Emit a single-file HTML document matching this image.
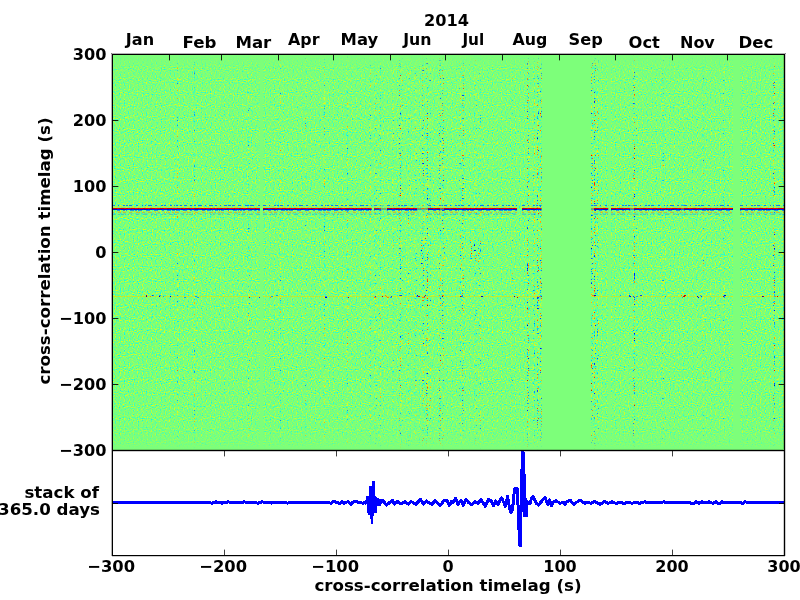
<!DOCTYPE html>
<html><head><meta charset="utf-8"><style>
html,body{margin:0;padding:0;background:#fff;width:800px;height:600px;overflow:hidden}
</style></head><body>
<svg width="800" height="600" viewBox="0 0 800 600" style="position:absolute;left:0;top:0">
<defs>
<filter id="nz" x="0" y="0" width="1" height="1" color-interpolation-filters="sRGB">
<feTurbulence type="fractalNoise" baseFrequency="0.78 0.92" numOctaves="1" seed="3" result="t"/>
<feColorMatrix type="matrix" values="1.0 0 0 0 0.0  1.0 0 0 0 0.0  1.0 0 0 0 0.0  0 0 0 0 1"/>
<feComponentTransfer>
<feFuncR type="table" tableValues="0.035 0.035 0.035 0.035 0.035 0.035 0.035 0.035 0.035 0.035 0.035 0.035 0.035 0.035 0.035 0.035 0.035 0.035 0.035 0.035 0.035 0.035 0.035 0.035 0.035 0.035 0.035 0.035 0.035 0.035 0.035 0.035 0.035 0.047 0.073 0.085 0.111 0.123 0.136 0.161 0.174 0.199 0.212 0.225 0.237 0.262 0.275 0.288 0.300 0.326 0.338 0.351 0.364 0.376 0.389 0.402 0.414 0.427 0.440 0.452 0.452 0.465 0.478 0.478 0.490 0.490 0.490 0.503 0.515 0.515 0.528 0.541 0.553 0.566 0.579 0.591 0.604 0.617 0.629 0.642 0.667 0.680 0.693 0.705 0.731 0.743 0.756 0.769 0.794 0.806 0.832 0.844 0.857 0.882 0.895 0.920 0.933 0.933 0.933 0.933 0.933 0.933 0.933 0.933 0.933 0.933 0.933 0.933 0.933 0.933 0.933 0.933 0.933 0.933 0.933 0.933 0.933 0.933 0.933 0.933 0.933 0.933 0.933 0.933 0.933 0.933 0.933 0.933 0.933"/>
<feFuncG type="table" tableValues="0.943 0.943 0.943 0.943 0.943 0.943 0.943 0.943 0.943 0.943 0.943 0.943 0.943 0.943 0.943 0.943 0.943 0.943 0.943 0.943 0.943 0.943 0.943 0.943 0.943 0.943 0.943 0.943 0.943 0.943 0.943 0.943 0.943 0.959 0.990 1.000 1.000 1.000 1.000 1.000 1.000 1.000 1.000 1.000 1.000 1.000 1.000 1.000 1.000 1.000 1.000 1.000 1.000 1.000 1.000 1.000 1.000 1.000 1.000 1.000 1.000 1.000 1.000 1.000 1.000 1.000 1.000 1.000 1.000 1.000 1.000 1.000 1.000 1.000 1.000 1.000 1.000 1.000 1.000 1.000 1.000 1.000 1.000 1.000 1.000 1.000 1.000 1.000 1.000 1.000 1.000 1.000 1.000 1.000 1.000 1.000 1.000 1.000 1.000 1.000 1.000 1.000 1.000 1.000 1.000 1.000 1.000 1.000 1.000 1.000 1.000 1.000 1.000 1.000 1.000 1.000 1.000 1.000 1.000 1.000 1.000 1.000 1.000 1.000 1.000 1.000 1.000 1.000 1.000"/>
<feFuncB type="table" tableValues="0.933 0.933 0.933 0.933 0.933 0.933 0.933 0.933 0.933 0.933 0.933 0.933 0.933 0.933 0.933 0.933 0.933 0.933 0.933 0.933 0.933 0.933 0.933 0.933 0.933 0.933 0.933 0.933 0.933 0.933 0.933 0.933 0.933 0.920 0.895 0.882 0.857 0.844 0.832 0.806 0.794 0.769 0.756 0.743 0.731 0.705 0.693 0.680 0.667 0.642 0.629 0.617 0.604 0.591 0.579 0.566 0.553 0.541 0.528 0.515 0.515 0.503 0.490 0.490 0.478 0.478 0.478 0.465 0.452 0.452 0.440 0.427 0.414 0.402 0.389 0.376 0.364 0.351 0.338 0.326 0.300 0.288 0.275 0.262 0.237 0.225 0.212 0.199 0.174 0.161 0.136 0.123 0.111 0.085 0.073 0.047 0.035 0.035 0.035 0.035 0.035 0.035 0.035 0.035 0.035 0.035 0.035 0.035 0.035 0.035 0.035 0.035 0.035 0.035 0.035 0.035 0.035 0.035 0.035 0.035 0.035 0.035 0.035 0.035 0.035 0.035 0.035 0.035 0.035"/>
</feComponentTransfer>
</filter>
<filter id="nz2" x="0" y="0" width="1" height="1" color-interpolation-filters="sRGB">
<feTurbulence type="fractalNoise" baseFrequency="0.7 0.6" numOctaves="1" seed="11"/>
<feColorMatrix type="matrix" values="1 0 0 0 0  1 0 0 0 0  1 0 0 0 0  0 0 0 0 1"/>
<feComponentTransfer>
<feFuncR type="table" tableValues="0.000 0.000 0.000 0.000 0.000 0.000 0.000 0.000 0.000 0.000 0.000 0.000 0.000 0.000 0.000 0.000 0.000 0.000 0.000 0.000 0.000 0.000 0.000 0.000 0.000 0.000 0.000 0.000 0.000 0.000 0.000 0.000 0.000 0.000 0.000 0.000 0.000 0.000 0.000 0.000 0.000 0.000 0.000 0.000 0.022 0.073 0.123 0.174 0.212 0.237 0.262 0.288 0.300 0.326 0.338 0.364 0.376 0.389 0.414 0.427 0.440 0.452 0.465 0.478 0.490 0.490 0.503 0.515 0.528 0.541 0.553 0.579 0.591 0.604 0.629 0.642 0.667 0.680 0.705 0.731 0.756 0.794 0.844 0.895 0.946 0.996 1.000 1.000 1.000 1.000 1.000 1.000 1.000 1.000 1.000 1.000 1.000 1.000 1.000 0.999 0.946 0.892 0.839 0.785 0.714 0.660 0.607 0.553 0.500 0.500 0.500 0.500 0.500 0.500 0.500 0.500 0.500 0.500 0.500 0.500 0.500 0.500 0.500 0.500 0.500 0.500 0.500 0.500 0.500"/>
<feFuncG type="table" tableValues="0.000 0.000 0.000 0.000 0.000 0.000 0.000 0.000 0.000 0.000 0.000 0.000 0.000 0.000 0.000 0.000 0.000 0.000 0.000 0.000 0.000 0.000 0.000 0.000 0.000 0.000 0.000 0.000 0.000 0.000 0.000 0.033 0.065 0.143 0.222 0.300 0.378 0.457 0.520 0.598 0.661 0.739 0.802 0.865 0.927 0.990 1.000 1.000 1.000 1.000 1.000 1.000 1.000 1.000 1.000 1.000 1.000 1.000 1.000 1.000 1.000 1.000 1.000 1.000 1.000 1.000 1.000 1.000 1.000 1.000 1.000 1.000 1.000 1.000 1.000 1.000 1.000 1.000 1.000 1.000 1.000 1.000 1.000 1.000 0.988 0.930 0.872 0.814 0.741 0.683 0.611 0.553 0.480 0.407 0.335 0.262 0.190 0.160 0.117 0.073 0.030 0.000 0.000 0.000 0.000 0.000 0.000 0.000 0.000 0.000 0.000 0.000 0.000 0.000 0.000 0.000 0.000 0.000 0.000 0.000 0.000 0.000 0.000 0.000 0.000 0.000 0.000 0.000 0.000"/>
<feFuncB type="table" tableValues="0.500 0.500 0.500 0.500 0.500 0.500 0.500 0.500 0.500 0.500 0.500 0.500 0.500 0.500 0.500 0.500 0.500 0.500 0.500 0.500 0.500 0.553 0.607 0.660 0.714 0.785 0.839 0.892 0.946 0.999 1.000 1.000 1.000 1.000 1.000 1.000 1.000 1.000 1.000 1.000 1.000 1.000 1.000 0.996 0.946 0.895 0.844 0.794 0.756 0.731 0.705 0.680 0.667 0.642 0.629 0.604 0.591 0.579 0.553 0.541 0.528 0.515 0.503 0.490 0.478 0.478 0.465 0.452 0.440 0.427 0.414 0.389 0.376 0.364 0.338 0.326 0.300 0.288 0.262 0.237 0.212 0.174 0.123 0.073 0.022 0.000 0.000 0.000 0.000 0.000 0.000 0.000 0.000 0.000 0.000 0.000 0.000 0.000 0.000 0.000 0.000 0.000 0.000 0.000 0.000 0.000 0.000 0.000 0.000 0.000 0.000 0.000 0.000 0.000 0.000 0.000 0.000 0.000 0.000 0.000 0.000 0.000 0.000 0.000 0.000 0.000 0.000 0.000 0.000"/>
</feComponentTransfer>
</filter>
<filter id="nz3" x="0" y="0" width="1" height="1" color-interpolation-filters="sRGB">
<feTurbulence type="fractalNoise" baseFrequency="0.7 0.6" numOctaves="1" seed="17"/>
<feColorMatrix type="matrix" values="1 0 0 0 0  1 0 0 0 0  1 0 0 0 0  0 0 0 0 1"/>
<feComponentTransfer>
<feFuncR type="table" tableValues="0.000 0.000 0.000 0.000 0.000 0.000 0.000 0.000 0.000 0.000 0.000 0.000 0.000 0.000 0.000 0.000 0.000 0.000 0.000 0.000 0.000 0.000 0.000 0.000 0.000 0.000 0.000 0.000 0.000 0.000 0.000 0.000 0.000 0.000 0.000 0.000 0.000 0.000 0.000 0.000 0.035 0.073 0.111 0.136 0.174 0.199 0.225 0.237 0.262 0.275 0.300 0.313 0.326 0.351 0.364 0.376 0.389 0.402 0.427 0.440 0.452 0.452 0.465 0.478 0.490 0.490 0.503 0.515 0.515 0.528 0.541 0.566 0.579 0.591 0.604 0.617 0.642 0.655 0.667 0.693 0.705 0.731 0.743 0.769 0.794 0.832 0.857 0.895 0.933 0.984 1.000 1.000 1.000 1.000 1.000 1.000 1.000 1.000 1.000 1.000 1.000 1.000 1.000 1.000 1.000 1.000 1.000 1.000 1.000 1.000 1.000 1.000 1.000 1.000 0.999 0.963 0.928 0.892 0.857 0.803 0.767 0.732 0.696 0.643 0.607 0.571 0.518 0.500 0.500"/>
<feFuncG type="table" tableValues="0.000 0.000 0.000 0.000 0.000 0.000 0.000 0.000 0.000 0.000 0.000 0.000 0.000 0.000 0.000 0.000 0.018 0.049 0.080 0.112 0.143 0.175 0.206 0.237 0.269 0.300 0.331 0.363 0.394 0.425 0.457 0.488 0.520 0.567 0.629 0.676 0.739 0.786 0.833 0.880 0.943 0.990 1.000 1.000 1.000 1.000 1.000 1.000 1.000 1.000 1.000 1.000 1.000 1.000 1.000 1.000 1.000 1.000 1.000 1.000 1.000 1.000 1.000 1.000 1.000 1.000 1.000 1.000 1.000 1.000 1.000 1.000 1.000 1.000 1.000 1.000 1.000 1.000 1.000 1.000 1.000 1.000 1.000 1.000 1.000 1.000 1.000 1.000 1.000 0.945 0.901 0.858 0.814 0.756 0.712 0.654 0.611 0.582 0.553 0.524 0.495 0.466 0.436 0.407 0.378 0.349 0.320 0.291 0.262 0.233 0.204 0.175 0.146 0.117 0.073 0.044 0.015 0.000 0.000 0.000 0.000 0.000 0.000 0.000 0.000 0.000 0.000 0.000 0.000"/>
<feFuncB type="table" tableValues="0.500 0.500 0.518 0.571 0.607 0.643 0.696 0.732 0.767 0.803 0.857 0.892 0.928 0.963 0.999 1.000 1.000 1.000 1.000 1.000 1.000 1.000 1.000 1.000 1.000 1.000 1.000 1.000 1.000 1.000 1.000 1.000 1.000 1.000 1.000 1.000 1.000 1.000 1.000 0.984 0.933 0.895 0.857 0.832 0.794 0.769 0.743 0.731 0.705 0.693 0.667 0.655 0.642 0.617 0.604 0.591 0.579 0.566 0.541 0.528 0.515 0.515 0.503 0.490 0.478 0.478 0.465 0.452 0.452 0.440 0.427 0.402 0.389 0.376 0.364 0.351 0.326 0.313 0.300 0.275 0.262 0.237 0.225 0.199 0.174 0.136 0.111 0.073 0.035 0.000 0.000 0.000 0.000 0.000 0.000 0.000 0.000 0.000 0.000 0.000 0.000 0.000 0.000 0.000 0.000 0.000 0.000 0.000 0.000 0.000 0.000 0.000 0.000 0.000 0.000 0.000 0.000 0.000 0.000 0.000 0.000 0.000 0.000 0.000 0.000 0.000 0.000 0.000 0.000"/>
</feComponentTransfer>
</filter>
<filter id="gs" x="0" y="0" width="800" height="600" filterUnits="userSpaceOnUse"><feColorMatrix type="identity"/></filter>
<linearGradient id="fade" x1="0" y1="0" x2="0" y2="1"><stop offset="0.0025" stop-color="#7dff7a" stop-opacity="0.97"/><stop offset="0.0101" stop-color="#7dff7a" stop-opacity="0.85"/><stop offset="0.0202" stop-color="#7dff7a" stop-opacity="0.6"/><stop offset="0.0354" stop-color="#7dff7a" stop-opacity="0.35"/><stop offset="0.0657" stop-color="#7dff7a" stop-opacity="0.18"/><stop offset="0.1667" stop-color="#7dff7a" stop-opacity="0.08"/><stop offset="0.2929" stop-color="#7dff7a" stop-opacity="0.0"/><stop offset="0.6970" stop-color="#7dff7a" stop-opacity="0.0"/><stop offset="0.8232" stop-color="#7dff7a" stop-opacity="0.08"/><stop offset="0.9242" stop-color="#7dff7a" stop-opacity="0.2"/><stop offset="0.9646" stop-color="#7dff7a" stop-opacity="0.4"/><stop offset="0.9798" stop-color="#7dff7a" stop-opacity="0.6"/><stop offset="0.9899" stop-color="#7dff7a" stop-opacity="0.85"/><stop offset="0.9975" stop-color="#7dff7a" stop-opacity="0.97"/></linearGradient>
</defs>
<rect x="0" y="0" width="800" height="600" fill="#fff"/>
<rect x="112" y="54" width="672" height="396" fill="#7dff7a"/>
<rect x="112" y="54" width="672" height="396" fill="#000" filter="url(#nz)"/>
<rect x="177" y="54" width="1" height="396" fill="#000" filter="url(#nz3)"/><rect x="194" y="54" width="1" height="396" fill="#000" filter="url(#nz3)"/><rect x="248" y="54" width="2" height="396" fill="#000" filter="url(#nz3)"/><rect x="280" y="54" width="1" height="396" fill="#000" filter="url(#nz3)"/><rect x="305" y="54" width="1" height="396" fill="#000" filter="url(#nz3)"/><rect x="324" y="54" width="1" height="396" fill="#000" filter="url(#nz3)"/><rect x="347" y="54" width="1" height="396" fill="#000" filter="url(#nz3)"/><rect x="370" y="54" width="1" height="396" fill="#000" filter="url(#nz3)"/><rect x="375" y="54" width="2" height="396" fill="#000" filter="url(#nz3)"/><rect x="379" y="54" width="2" height="396" fill="#000" filter="url(#nz3)"/><rect x="393" y="54" width="1" height="396" fill="#000" filter="url(#nz3)"/><rect x="399" y="54" width="2" height="396" fill="#000" filter="url(#nz2)"/><rect x="402" y="54" width="1" height="396" fill="#000" filter="url(#nz3)"/><rect x="408" y="54" width="2" height="396" fill="#000" filter="url(#nz3)"/><rect x="415" y="54" width="2" height="396" fill="#000" filter="url(#nz3)"/><rect x="422" y="54" width="2" height="396" fill="#000" filter="url(#nz2)"/><rect x="426" y="54" width="2" height="396" fill="#000" filter="url(#nz2)"/><rect x="429" y="54" width="2" height="396" fill="#000" filter="url(#nz3)"/><rect x="439" y="54" width="2" height="396" fill="#000" filter="url(#nz2)"/><rect x="442" y="54" width="2" height="396" fill="#000" filter="url(#nz2)"/><rect x="459" y="54" width="2" height="396" fill="#000" filter="url(#nz3)"/><rect x="462" y="54" width="2" height="396" fill="#000" filter="url(#nz2)"/><rect x="475" y="54" width="2" height="396" fill="#000" filter="url(#nz3)"/><rect x="479" y="54" width="2" height="396" fill="#000" filter="url(#nz3)"/><rect x="512" y="54" width="1" height="396" fill="#000" filter="url(#nz3)"/><rect x="527" y="54" width="2" height="396" fill="#000" filter="url(#nz2)"/><rect x="533" y="54" width="2" height="396" fill="#000" filter="url(#nz3)"/><rect x="537" y="54" width="2" height="396" fill="#000" filter="url(#nz2)"/><rect x="540" y="54" width="2" height="396" fill="#000" filter="url(#nz2)"/><rect x="591" y="54" width="2" height="396" fill="#000" filter="url(#nz2)"/><rect x="594" y="54" width="2" height="396" fill="#000" filter="url(#nz2)"/><rect x="597" y="54" width="2" height="396" fill="#000" filter="url(#nz3)"/><rect x="633" y="54" width="2" height="396" fill="#000" filter="url(#nz2)"/><rect x="636" y="54" width="1" height="396" fill="#000" filter="url(#nz3)"/><rect x="662" y="54" width="2" height="396" fill="#000" filter="url(#nz3)"/><rect x="703" y="54" width="1" height="396" fill="#000" filter="url(#nz3)"/><rect x="723" y="54" width="1" height="396" fill="#000" filter="url(#nz3)"/><rect x="773" y="54" width="2" height="396" fill="#000" filter="url(#nz2)"/><rect x="421" y="240" width="3" height="24" fill="#000" filter="url(#nz2)"/><rect x="425" y="238" width="3" height="26" fill="#000" filter="url(#nz2)"/><rect x="428" y="244" width="2" height="18" fill="#000" filter="url(#nz2)"/><rect x="438" y="240" width="3" height="24" fill="#000" filter="url(#nz2)"/><rect x="442" y="238" width="3" height="26" fill="#000" filter="url(#nz2)"/><rect x="460" y="236" width="2" height="30" fill="#000" filter="url(#nz2)"/><rect x="470" y="240" width="2" height="22" fill="#000" filter="url(#nz2)"/><rect x="474" y="242" width="3" height="20" fill="#000" filter="url(#nz2)"/><rect x="478" y="240" width="3" height="22" fill="#000" filter="url(#nz2)"/><path d="M112 205.5H260" stroke="#0064ff" stroke-width="1" opacity="0.85" stroke-dasharray="3 3 1 4 2 1 2 1 3 4 2 4 1 2 1 2 4 3 2 4 2 1 2 4 2 2 1 1 2 2 2 2 3 3 2 2 2 2 4 3 1 3 4 2 2 3 1 3 3 1 3 1 3 3 3 4 3 2 4 4"/><path d="M263 205.5H371.7" stroke="#0064ff" stroke-width="1" opacity="0.85" stroke-dasharray="3 3 1 4 2 1 2 1 3 4 2 4 1 2 1 2 4 3 2 4 2 1 2 4 2 2 1 1 2 2 2 2 3 3 2 2 2 2 4 3 1 3 4 2 2 3 1 3 3 1 3 1 3 3 3 4 3 2 4 4"/><path d="M374 205.5H381" stroke="#0064ff" stroke-width="1" opacity="0.68" stroke-dasharray="3 3 1 4 2 1 2 1 3 4 2 4 1 2 1 2 4 3 2 4 2 1 2 4 2 2 1 1 2 2 2 2 3 3 2 2 2 2 4 3 1 3 4 2 2 3 1 3 3 1 3 1 3 3 3 4 3 2 4 4"/><path d="M381 205.5H387" stroke="#0064ff" stroke-width="1" opacity="0.21" stroke-dasharray="3 3 1 4 2 1 2 1 3 4 2 4 1 2 1 2 4 3 2 4 2 1 2 4 2 2 1 1 2 2 2 2 3 3 2 2 2 2 4 3 1 3 4 2 2 3 1 3 3 1 3 1 3 3 3 4 3 2 4 4"/><path d="M387 205.5H417" stroke="#0064ff" stroke-width="1" opacity="0.85" stroke-dasharray="3 3 1 4 2 1 2 1 3 4 2 4 1 2 1 2 4 3 2 4 2 1 2 4 2 2 1 1 2 2 2 2 3 3 2 2 2 2 4 3 1 3 4 2 2 3 1 3 3 1 3 1 3 3 3 4 3 2 4 4"/><path d="M417 205.5H428" stroke="#0064ff" stroke-width="1" opacity="0.26" stroke-dasharray="3 3 1 4 2 1 2 1 3 4 2 4 1 2 1 2 4 3 2 4 2 1 2 4 2 2 1 1 2 2 2 2 3 3 2 2 2 2 4 3 1 3 4 2 2 3 1 3 3 1 3 1 3 3 3 4 3 2 4 4"/><path d="M428 205.5H440" stroke="#0064ff" stroke-width="1" opacity="0.85" stroke-dasharray="3 3 1 4 2 1 2 1 3 4 2 4 1 2 1 2 4 3 2 4 2 1 2 4 2 2 1 1 2 2 2 2 3 3 2 2 2 2 4 3 1 3 4 2 2 3 1 3 3 1 3 1 3 3 3 4 3 2 4 4"/><path d="M440 205.5H444" stroke="#0064ff" stroke-width="1" opacity="0.42" stroke-dasharray="3 3 1 4 2 1 2 1 3 4 2 4 1 2 1 2 4 3 2 4 2 1 2 4 2 2 1 1 2 2 2 2 3 3 2 2 2 2 4 3 1 3 4 2 2 3 1 3 3 1 3 1 3 3 3 4 3 2 4 4"/><path d="M444 205.5H517" stroke="#0064ff" stroke-width="1" opacity="0.85" stroke-dasharray="3 3 1 4 2 1 2 1 3 4 2 4 1 2 1 2 4 3 2 4 2 1 2 4 2 2 1 1 2 2 2 2 3 3 2 2 2 2 4 3 1 3 4 2 2 3 1 3 3 1 3 1 3 3 3 4 3 2 4 4"/><path d="M522 205.5H541.7" stroke="#0064ff" stroke-width="1" opacity="0.85" stroke-dasharray="3 3 1 4 2 1 2 1 3 4 2 4 1 2 1 2 4 3 2 4 2 1 2 4 2 2 1 1 2 2 2 2 3 3 2 2 2 2 4 3 1 3 4 2 2 3 1 3 3 1 3 1 3 3 3 4 3 2 4 4"/><path d="M591 205.5H594" stroke="#0064ff" stroke-width="1" opacity="0.26" stroke-dasharray="3 3 1 4 2 1 2 1 3 4 2 4 1 2 1 2 4 3 2 4 2 1 2 4 2 2 1 1 2 2 2 2 3 3 2 2 2 2 4 3 1 3 4 2 2 3 1 3 3 1 3 1 3 3 3 4 3 2 4 4"/><path d="M594 205.5H608.5" stroke="#0064ff" stroke-width="1" opacity="0.85" stroke-dasharray="3 3 1 4 2 1 2 1 3 4 2 4 1 2 1 2 4 3 2 4 2 1 2 4 2 2 1 1 2 2 2 2 3 3 2 2 2 2 4 3 1 3 4 2 2 3 1 3 3 1 3 1 3 3 3 4 3 2 4 4"/><path d="M611 205.5H630" stroke="#0064ff" stroke-width="1" opacity="0.85" stroke-dasharray="3 3 1 4 2 1 2 1 3 4 2 4 1 2 1 2 4 3 2 4 2 1 2 4 2 2 1 1 2 2 2 2 3 3 2 2 2 2 4 3 1 3 4 2 2 3 1 3 3 1 3 1 3 3 3 4 3 2 4 4"/><path d="M630 205.5H634" stroke="#0064ff" stroke-width="1" opacity="0.34" stroke-dasharray="3 3 1 4 2 1 2 1 3 4 2 4 1 2 1 2 4 3 2 4 2 1 2 4 2 2 1 1 2 2 2 2 3 3 2 2 2 2 4 3 1 3 4 2 2 3 1 3 3 1 3 1 3 3 3 4 3 2 4 4"/><path d="M634 205.5H681" stroke="#0064ff" stroke-width="1" opacity="0.85" stroke-dasharray="3 3 1 4 2 1 2 1 3 4 2 4 1 2 1 2 4 3 2 4 2 1 2 4 2 2 1 1 2 2 2 2 3 3 2 2 2 2 4 3 1 3 4 2 2 3 1 3 3 1 3 1 3 3 3 4 3 2 4 4"/><path d="M681 205.5H684" stroke="#0064ff" stroke-width="1" opacity="0.51" stroke-dasharray="3 3 1 4 2 1 2 1 3 4 2 4 1 2 1 2 4 3 2 4 2 1 2 4 2 2 1 1 2 2 2 2 3 3 2 2 2 2 4 3 1 3 4 2 2 3 1 3 3 1 3 1 3 3 3 4 3 2 4 4"/><path d="M684 205.5H733" stroke="#0064ff" stroke-width="1" opacity="0.85" stroke-dasharray="3 3 1 4 2 1 2 1 3 4 2 4 1 2 1 2 4 3 2 4 2 1 2 4 2 2 1 1 2 2 2 2 3 3 2 2 2 2 4 3 1 3 4 2 2 3 1 3 3 1 3 1 3 3 3 4 3 2 4 4"/><path d="M740 205.5H784" stroke="#0064ff" stroke-width="1" opacity="0.85" stroke-dasharray="3 3 1 4 2 1 2 1 3 4 2 4 1 2 1 2 4 3 2 4 2 1 2 4 2 2 1 1 2 2 2 2 3 3 2 2 2 2 4 3 1 3 4 2 2 3 1 3 3 1 3 1 3 3 3 4 3 2 4 4"/><path d="M112 206.5H260" stroke="#ffe000" stroke-width="1" opacity="0.45" stroke-dasharray="2 1 3 1 3 4 1 4 3 4 1 4 1 2 2 1 2 4 3 3 3 4 1 3 3 1 4 1 2 3 3 2 3 3 1 3 3 3 2 1 2 3 4 2 1 1 4 1 2 3 3 4 4 2 1 1 4 3 2 2"/><path d="M263 206.5H371.7" stroke="#ffe000" stroke-width="1" opacity="0.45" stroke-dasharray="2 1 3 1 3 4 1 4 3 4 1 4 1 2 2 1 2 4 3 3 3 4 1 3 3 1 4 1 2 3 3 2 3 3 1 3 3 3 2 1 2 3 4 2 1 1 4 1 2 3 3 4 4 2 1 1 4 3 2 2"/><path d="M374 206.5H381" stroke="#ffe000" stroke-width="1" opacity="0.36" stroke-dasharray="2 1 3 1 3 4 1 4 3 4 1 4 1 2 2 1 2 4 3 3 3 4 1 3 3 1 4 1 2 3 3 2 3 3 1 3 3 3 2 1 2 3 4 2 1 1 4 1 2 3 3 4 4 2 1 1 4 3 2 2"/><path d="M381 206.5H387" stroke="#ffe000" stroke-width="1" opacity="0.11" stroke-dasharray="2 1 3 1 3 4 1 4 3 4 1 4 1 2 2 1 2 4 3 3 3 4 1 3 3 1 4 1 2 3 3 2 3 3 1 3 3 3 2 1 2 3 4 2 1 1 4 1 2 3 3 4 4 2 1 1 4 3 2 2"/><path d="M387 206.5H417" stroke="#ffe000" stroke-width="1" opacity="0.45" stroke-dasharray="2 1 3 1 3 4 1 4 3 4 1 4 1 2 2 1 2 4 3 3 3 4 1 3 3 1 4 1 2 3 3 2 3 3 1 3 3 3 2 1 2 3 4 2 1 1 4 1 2 3 3 4 4 2 1 1 4 3 2 2"/><path d="M417 206.5H428" stroke="#ffe000" stroke-width="1" opacity="0.14" stroke-dasharray="2 1 3 1 3 4 1 4 3 4 1 4 1 2 2 1 2 4 3 3 3 4 1 3 3 1 4 1 2 3 3 2 3 3 1 3 3 3 2 1 2 3 4 2 1 1 4 1 2 3 3 4 4 2 1 1 4 3 2 2"/><path d="M428 206.5H440" stroke="#ffe000" stroke-width="1" opacity="0.45" stroke-dasharray="2 1 3 1 3 4 1 4 3 4 1 4 1 2 2 1 2 4 3 3 3 4 1 3 3 1 4 1 2 3 3 2 3 3 1 3 3 3 2 1 2 3 4 2 1 1 4 1 2 3 3 4 4 2 1 1 4 3 2 2"/><path d="M440 206.5H444" stroke="#ffe000" stroke-width="1" opacity="0.23" stroke-dasharray="2 1 3 1 3 4 1 4 3 4 1 4 1 2 2 1 2 4 3 3 3 4 1 3 3 1 4 1 2 3 3 2 3 3 1 3 3 3 2 1 2 3 4 2 1 1 4 1 2 3 3 4 4 2 1 1 4 3 2 2"/><path d="M444 206.5H517" stroke="#ffe000" stroke-width="1" opacity="0.45" stroke-dasharray="2 1 3 1 3 4 1 4 3 4 1 4 1 2 2 1 2 4 3 3 3 4 1 3 3 1 4 1 2 3 3 2 3 3 1 3 3 3 2 1 2 3 4 2 1 1 4 1 2 3 3 4 4 2 1 1 4 3 2 2"/><path d="M522 206.5H541.7" stroke="#ffe000" stroke-width="1" opacity="0.45" stroke-dasharray="2 1 3 1 3 4 1 4 3 4 1 4 1 2 2 1 2 4 3 3 3 4 1 3 3 1 4 1 2 3 3 2 3 3 1 3 3 3 2 1 2 3 4 2 1 1 4 1 2 3 3 4 4 2 1 1 4 3 2 2"/><path d="M591 206.5H594" stroke="#ffe000" stroke-width="1" opacity="0.14" stroke-dasharray="2 1 3 1 3 4 1 4 3 4 1 4 1 2 2 1 2 4 3 3 3 4 1 3 3 1 4 1 2 3 3 2 3 3 1 3 3 3 2 1 2 3 4 2 1 1 4 1 2 3 3 4 4 2 1 1 4 3 2 2"/><path d="M594 206.5H608.5" stroke="#ffe000" stroke-width="1" opacity="0.45" stroke-dasharray="2 1 3 1 3 4 1 4 3 4 1 4 1 2 2 1 2 4 3 3 3 4 1 3 3 1 4 1 2 3 3 2 3 3 1 3 3 3 2 1 2 3 4 2 1 1 4 1 2 3 3 4 4 2 1 1 4 3 2 2"/><path d="M611 206.5H630" stroke="#ffe000" stroke-width="1" opacity="0.45" stroke-dasharray="2 1 3 1 3 4 1 4 3 4 1 4 1 2 2 1 2 4 3 3 3 4 1 3 3 1 4 1 2 3 3 2 3 3 1 3 3 3 2 1 2 3 4 2 1 1 4 1 2 3 3 4 4 2 1 1 4 3 2 2"/><path d="M630 206.5H634" stroke="#ffe000" stroke-width="1" opacity="0.18" stroke-dasharray="2 1 3 1 3 4 1 4 3 4 1 4 1 2 2 1 2 4 3 3 3 4 1 3 3 1 4 1 2 3 3 2 3 3 1 3 3 3 2 1 2 3 4 2 1 1 4 1 2 3 3 4 4 2 1 1 4 3 2 2"/><path d="M634 206.5H681" stroke="#ffe000" stroke-width="1" opacity="0.45" stroke-dasharray="2 1 3 1 3 4 1 4 3 4 1 4 1 2 2 1 2 4 3 3 3 4 1 3 3 1 4 1 2 3 3 2 3 3 1 3 3 3 2 1 2 3 4 2 1 1 4 1 2 3 3 4 4 2 1 1 4 3 2 2"/><path d="M681 206.5H684" stroke="#ffe000" stroke-width="1" opacity="0.27" stroke-dasharray="2 1 3 1 3 4 1 4 3 4 1 4 1 2 2 1 2 4 3 3 3 4 1 3 3 1 4 1 2 3 3 2 3 3 1 3 3 3 2 1 2 3 4 2 1 1 4 1 2 3 3 4 4 2 1 1 4 3 2 2"/><path d="M684 206.5H733" stroke="#ffe000" stroke-width="1" opacity="0.45" stroke-dasharray="2 1 3 1 3 4 1 4 3 4 1 4 1 2 2 1 2 4 3 3 3 4 1 3 3 1 4 1 2 3 3 2 3 3 1 3 3 3 2 1 2 3 4 2 1 1 4 1 2 3 3 4 4 2 1 1 4 3 2 2"/><path d="M740 206.5H784" stroke="#ffe000" stroke-width="1" opacity="0.45" stroke-dasharray="2 1 3 1 3 4 1 4 3 4 1 4 1 2 2 1 2 4 3 3 3 4 1 3 3 1 4 1 2 3 3 2 3 3 1 3 3 3 2 1 2 3 4 2 1 1 4 1 2 3 3 4 4 2 1 1 4 3 2 2"/><path d="M112 207.5H260" stroke="#ffb000" stroke-width="1" opacity="0.30" stroke-dasharray="2 4 1 2 4 3 2 1 4 3 2 4 2 4 4 3 4 3 3 4 4 2 1 4 2 4 3 2 1 4 3 3 1 3 1 3 3 3 4 3 3 3 2 1 4 3 3 3 4 3 3 3 3 3 4 3 2 4 3 3"/><path d="M263 207.5H371.7" stroke="#ffb000" stroke-width="1" opacity="0.30" stroke-dasharray="2 4 1 2 4 3 2 1 4 3 2 4 2 4 4 3 4 3 3 4 4 2 1 4 2 4 3 2 1 4 3 3 1 3 1 3 3 3 4 3 3 3 2 1 4 3 3 3 4 3 3 3 3 3 4 3 2 4 3 3"/><path d="M374 207.5H381" stroke="#ffb000" stroke-width="1" opacity="0.24" stroke-dasharray="2 4 1 2 4 3 2 1 4 3 2 4 2 4 4 3 4 3 3 4 4 2 1 4 2 4 3 2 1 4 3 3 1 3 1 3 3 3 4 3 3 3 2 1 4 3 3 3 4 3 3 3 3 3 4 3 2 4 3 3"/><path d="M381 207.5H387" stroke="#ffb000" stroke-width="1" opacity="0.07" stroke-dasharray="2 4 1 2 4 3 2 1 4 3 2 4 2 4 4 3 4 3 3 4 4 2 1 4 2 4 3 2 1 4 3 3 1 3 1 3 3 3 4 3 3 3 2 1 4 3 3 3 4 3 3 3 3 3 4 3 2 4 3 3"/><path d="M387 207.5H417" stroke="#ffb000" stroke-width="1" opacity="0.30" stroke-dasharray="2 4 1 2 4 3 2 1 4 3 2 4 2 4 4 3 4 3 3 4 4 2 1 4 2 4 3 2 1 4 3 3 1 3 1 3 3 3 4 3 3 3 2 1 4 3 3 3 4 3 3 3 3 3 4 3 2 4 3 3"/><path d="M417 207.5H428" stroke="#ffb000" stroke-width="1" opacity="0.09" stroke-dasharray="2 4 1 2 4 3 2 1 4 3 2 4 2 4 4 3 4 3 3 4 4 2 1 4 2 4 3 2 1 4 3 3 1 3 1 3 3 3 4 3 3 3 2 1 4 3 3 3 4 3 3 3 3 3 4 3 2 4 3 3"/><path d="M428 207.5H440" stroke="#ffb000" stroke-width="1" opacity="0.30" stroke-dasharray="2 4 1 2 4 3 2 1 4 3 2 4 2 4 4 3 4 3 3 4 4 2 1 4 2 4 3 2 1 4 3 3 1 3 1 3 3 3 4 3 3 3 2 1 4 3 3 3 4 3 3 3 3 3 4 3 2 4 3 3"/><path d="M440 207.5H444" stroke="#ffb000" stroke-width="1" opacity="0.15" stroke-dasharray="2 4 1 2 4 3 2 1 4 3 2 4 2 4 4 3 4 3 3 4 4 2 1 4 2 4 3 2 1 4 3 3 1 3 1 3 3 3 4 3 3 3 2 1 4 3 3 3 4 3 3 3 3 3 4 3 2 4 3 3"/><path d="M444 207.5H517" stroke="#ffb000" stroke-width="1" opacity="0.30" stroke-dasharray="2 4 1 2 4 3 2 1 4 3 2 4 2 4 4 3 4 3 3 4 4 2 1 4 2 4 3 2 1 4 3 3 1 3 1 3 3 3 4 3 3 3 2 1 4 3 3 3 4 3 3 3 3 3 4 3 2 4 3 3"/><path d="M522 207.5H541.7" stroke="#ffb000" stroke-width="1" opacity="0.30" stroke-dasharray="2 4 1 2 4 3 2 1 4 3 2 4 2 4 4 3 4 3 3 4 4 2 1 4 2 4 3 2 1 4 3 3 1 3 1 3 3 3 4 3 3 3 2 1 4 3 3 3 4 3 3 3 3 3 4 3 2 4 3 3"/><path d="M591 207.5H594" stroke="#ffb000" stroke-width="1" opacity="0.09" stroke-dasharray="2 4 1 2 4 3 2 1 4 3 2 4 2 4 4 3 4 3 3 4 4 2 1 4 2 4 3 2 1 4 3 3 1 3 1 3 3 3 4 3 3 3 2 1 4 3 3 3 4 3 3 3 3 3 4 3 2 4 3 3"/><path d="M594 207.5H608.5" stroke="#ffb000" stroke-width="1" opacity="0.30" stroke-dasharray="2 4 1 2 4 3 2 1 4 3 2 4 2 4 4 3 4 3 3 4 4 2 1 4 2 4 3 2 1 4 3 3 1 3 1 3 3 3 4 3 3 3 2 1 4 3 3 3 4 3 3 3 3 3 4 3 2 4 3 3"/><path d="M611 207.5H630" stroke="#ffb000" stroke-width="1" opacity="0.30" stroke-dasharray="2 4 1 2 4 3 2 1 4 3 2 4 2 4 4 3 4 3 3 4 4 2 1 4 2 4 3 2 1 4 3 3 1 3 1 3 3 3 4 3 3 3 2 1 4 3 3 3 4 3 3 3 3 3 4 3 2 4 3 3"/><path d="M630 207.5H634" stroke="#ffb000" stroke-width="1" opacity="0.12" stroke-dasharray="2 4 1 2 4 3 2 1 4 3 2 4 2 4 4 3 4 3 3 4 4 2 1 4 2 4 3 2 1 4 3 3 1 3 1 3 3 3 4 3 3 3 2 1 4 3 3 3 4 3 3 3 3 3 4 3 2 4 3 3"/><path d="M634 207.5H681" stroke="#ffb000" stroke-width="1" opacity="0.30" stroke-dasharray="2 4 1 2 4 3 2 1 4 3 2 4 2 4 4 3 4 3 3 4 4 2 1 4 2 4 3 2 1 4 3 3 1 3 1 3 3 3 4 3 3 3 2 1 4 3 3 3 4 3 3 3 3 3 4 3 2 4 3 3"/><path d="M681 207.5H684" stroke="#ffb000" stroke-width="1" opacity="0.18" stroke-dasharray="2 4 1 2 4 3 2 1 4 3 2 4 2 4 4 3 4 3 3 4 4 2 1 4 2 4 3 2 1 4 3 3 1 3 1 3 3 3 4 3 3 3 2 1 4 3 3 3 4 3 3 3 3 3 4 3 2 4 3 3"/><path d="M684 207.5H733" stroke="#ffb000" stroke-width="1" opacity="0.30" stroke-dasharray="2 4 1 2 4 3 2 1 4 3 2 4 2 4 4 3 4 3 3 4 4 2 1 4 2 4 3 2 1 4 3 3 1 3 1 3 3 3 4 3 3 3 2 1 4 3 3 3 4 3 3 3 3 3 4 3 2 4 3 3"/><path d="M740 207.5H784" stroke="#ffb000" stroke-width="1" opacity="0.30" stroke-dasharray="2 4 1 2 4 3 2 1 4 3 2 4 2 4 4 3 4 3 3 4 4 2 1 4 2 4 3 2 1 4 3 3 1 3 1 3 3 3 4 3 3 3 2 1 4 3 3 3 4 3 3 3 3 3 4 3 2 4 3 3"/><path d="M112 208.5H260" stroke="#f00000" stroke-width="1" opacity="1.00"/><path d="M263 208.5H371.7" stroke="#f00000" stroke-width="1" opacity="1.00"/><path d="M374 208.5H381" stroke="#f00000" stroke-width="1" opacity="0.80"/><path d="M381 208.5H387" stroke="#f00000" stroke-width="1" opacity="0.25"/><path d="M387 208.5H417" stroke="#f00000" stroke-width="1" opacity="1.00"/><path d="M417 208.5H428" stroke="#f00000" stroke-width="1" opacity="0.30"/><path d="M428 208.5H440" stroke="#f00000" stroke-width="1" opacity="1.00"/><path d="M440 208.5H444" stroke="#f00000" stroke-width="1" opacity="0.50"/><path d="M444 208.5H517" stroke="#f00000" stroke-width="1" opacity="1.00"/><path d="M522 208.5H541.7" stroke="#f00000" stroke-width="1" opacity="1.00"/><path d="M591 208.5H594" stroke="#f00000" stroke-width="1" opacity="0.30"/><path d="M594 208.5H608.5" stroke="#f00000" stroke-width="1" opacity="1.00"/><path d="M611 208.5H630" stroke="#f00000" stroke-width="1" opacity="1.00"/><path d="M630 208.5H634" stroke="#f00000" stroke-width="1" opacity="0.40"/><path d="M634 208.5H681" stroke="#f00000" stroke-width="1" opacity="1.00"/><path d="M681 208.5H684" stroke="#f00000" stroke-width="1" opacity="0.60"/><path d="M684 208.5H733" stroke="#f00000" stroke-width="1" opacity="1.00"/><path d="M740 208.5H784" stroke="#f00000" stroke-width="1" opacity="1.00"/><path d="M112 208.5H260" stroke="#a00000" stroke-width="1" opacity="0.45" stroke-dasharray="5 2 5 2 2 3 4 3 1 4 2 5 5 5 4 3 5 5 3 1 2 2 5 4 5 2 2 2 1 4 2 2 1 2 1 3 2 4 2 5 1 4 4 3 4 5 1 5 2 2 3 1 3 4 3 4 1 5 3 1 5 5 3 1 3 5 5 3 5 3 3 2 4 4 5 5 3 4 2 2"/><path d="M263 208.5H371.7" stroke="#a00000" stroke-width="1" opacity="0.45" stroke-dasharray="5 2 5 2 2 3 4 3 1 4 2 5 5 5 4 3 5 5 3 1 2 2 5 4 5 2 2 2 1 4 2 2 1 2 1 3 2 4 2 5 1 4 4 3 4 5 1 5 2 2 3 1 3 4 3 4 1 5 3 1 5 5 3 1 3 5 5 3 5 3 3 2 4 4 5 5 3 4 2 2"/><path d="M374 208.5H381" stroke="#a00000" stroke-width="1" opacity="0.36" stroke-dasharray="5 2 5 2 2 3 4 3 1 4 2 5 5 5 4 3 5 5 3 1 2 2 5 4 5 2 2 2 1 4 2 2 1 2 1 3 2 4 2 5 1 4 4 3 4 5 1 5 2 2 3 1 3 4 3 4 1 5 3 1 5 5 3 1 3 5 5 3 5 3 3 2 4 4 5 5 3 4 2 2"/><path d="M381 208.5H387" stroke="#a00000" stroke-width="1" opacity="0.11" stroke-dasharray="5 2 5 2 2 3 4 3 1 4 2 5 5 5 4 3 5 5 3 1 2 2 5 4 5 2 2 2 1 4 2 2 1 2 1 3 2 4 2 5 1 4 4 3 4 5 1 5 2 2 3 1 3 4 3 4 1 5 3 1 5 5 3 1 3 5 5 3 5 3 3 2 4 4 5 5 3 4 2 2"/><path d="M387 208.5H417" stroke="#a00000" stroke-width="1" opacity="0.45" stroke-dasharray="5 2 5 2 2 3 4 3 1 4 2 5 5 5 4 3 5 5 3 1 2 2 5 4 5 2 2 2 1 4 2 2 1 2 1 3 2 4 2 5 1 4 4 3 4 5 1 5 2 2 3 1 3 4 3 4 1 5 3 1 5 5 3 1 3 5 5 3 5 3 3 2 4 4 5 5 3 4 2 2"/><path d="M417 208.5H428" stroke="#a00000" stroke-width="1" opacity="0.14" stroke-dasharray="5 2 5 2 2 3 4 3 1 4 2 5 5 5 4 3 5 5 3 1 2 2 5 4 5 2 2 2 1 4 2 2 1 2 1 3 2 4 2 5 1 4 4 3 4 5 1 5 2 2 3 1 3 4 3 4 1 5 3 1 5 5 3 1 3 5 5 3 5 3 3 2 4 4 5 5 3 4 2 2"/><path d="M428 208.5H440" stroke="#a00000" stroke-width="1" opacity="0.45" stroke-dasharray="5 2 5 2 2 3 4 3 1 4 2 5 5 5 4 3 5 5 3 1 2 2 5 4 5 2 2 2 1 4 2 2 1 2 1 3 2 4 2 5 1 4 4 3 4 5 1 5 2 2 3 1 3 4 3 4 1 5 3 1 5 5 3 1 3 5 5 3 5 3 3 2 4 4 5 5 3 4 2 2"/><path d="M440 208.5H444" stroke="#a00000" stroke-width="1" opacity="0.23" stroke-dasharray="5 2 5 2 2 3 4 3 1 4 2 5 5 5 4 3 5 5 3 1 2 2 5 4 5 2 2 2 1 4 2 2 1 2 1 3 2 4 2 5 1 4 4 3 4 5 1 5 2 2 3 1 3 4 3 4 1 5 3 1 5 5 3 1 3 5 5 3 5 3 3 2 4 4 5 5 3 4 2 2"/><path d="M444 208.5H517" stroke="#a00000" stroke-width="1" opacity="0.45" stroke-dasharray="5 2 5 2 2 3 4 3 1 4 2 5 5 5 4 3 5 5 3 1 2 2 5 4 5 2 2 2 1 4 2 2 1 2 1 3 2 4 2 5 1 4 4 3 4 5 1 5 2 2 3 1 3 4 3 4 1 5 3 1 5 5 3 1 3 5 5 3 5 3 3 2 4 4 5 5 3 4 2 2"/><path d="M522 208.5H541.7" stroke="#a00000" stroke-width="1" opacity="0.45" stroke-dasharray="5 2 5 2 2 3 4 3 1 4 2 5 5 5 4 3 5 5 3 1 2 2 5 4 5 2 2 2 1 4 2 2 1 2 1 3 2 4 2 5 1 4 4 3 4 5 1 5 2 2 3 1 3 4 3 4 1 5 3 1 5 5 3 1 3 5 5 3 5 3 3 2 4 4 5 5 3 4 2 2"/><path d="M591 208.5H594" stroke="#a00000" stroke-width="1" opacity="0.14" stroke-dasharray="5 2 5 2 2 3 4 3 1 4 2 5 5 5 4 3 5 5 3 1 2 2 5 4 5 2 2 2 1 4 2 2 1 2 1 3 2 4 2 5 1 4 4 3 4 5 1 5 2 2 3 1 3 4 3 4 1 5 3 1 5 5 3 1 3 5 5 3 5 3 3 2 4 4 5 5 3 4 2 2"/><path d="M594 208.5H608.5" stroke="#a00000" stroke-width="1" opacity="0.45" stroke-dasharray="5 2 5 2 2 3 4 3 1 4 2 5 5 5 4 3 5 5 3 1 2 2 5 4 5 2 2 2 1 4 2 2 1 2 1 3 2 4 2 5 1 4 4 3 4 5 1 5 2 2 3 1 3 4 3 4 1 5 3 1 5 5 3 1 3 5 5 3 5 3 3 2 4 4 5 5 3 4 2 2"/><path d="M611 208.5H630" stroke="#a00000" stroke-width="1" opacity="0.45" stroke-dasharray="5 2 5 2 2 3 4 3 1 4 2 5 5 5 4 3 5 5 3 1 2 2 5 4 5 2 2 2 1 4 2 2 1 2 1 3 2 4 2 5 1 4 4 3 4 5 1 5 2 2 3 1 3 4 3 4 1 5 3 1 5 5 3 1 3 5 5 3 5 3 3 2 4 4 5 5 3 4 2 2"/><path d="M630 208.5H634" stroke="#a00000" stroke-width="1" opacity="0.18" stroke-dasharray="5 2 5 2 2 3 4 3 1 4 2 5 5 5 4 3 5 5 3 1 2 2 5 4 5 2 2 2 1 4 2 2 1 2 1 3 2 4 2 5 1 4 4 3 4 5 1 5 2 2 3 1 3 4 3 4 1 5 3 1 5 5 3 1 3 5 5 3 5 3 3 2 4 4 5 5 3 4 2 2"/><path d="M634 208.5H681" stroke="#a00000" stroke-width="1" opacity="0.45" stroke-dasharray="5 2 5 2 2 3 4 3 1 4 2 5 5 5 4 3 5 5 3 1 2 2 5 4 5 2 2 2 1 4 2 2 1 2 1 3 2 4 2 5 1 4 4 3 4 5 1 5 2 2 3 1 3 4 3 4 1 5 3 1 5 5 3 1 3 5 5 3 5 3 3 2 4 4 5 5 3 4 2 2"/><path d="M681 208.5H684" stroke="#a00000" stroke-width="1" opacity="0.27" stroke-dasharray="5 2 5 2 2 3 4 3 1 4 2 5 5 5 4 3 5 5 3 1 2 2 5 4 5 2 2 2 1 4 2 2 1 2 1 3 2 4 2 5 1 4 4 3 4 5 1 5 2 2 3 1 3 4 3 4 1 5 3 1 5 5 3 1 3 5 5 3 5 3 3 2 4 4 5 5 3 4 2 2"/><path d="M684 208.5H733" stroke="#a00000" stroke-width="1" opacity="0.45" stroke-dasharray="5 2 5 2 2 3 4 3 1 4 2 5 5 5 4 3 5 5 3 1 2 2 5 4 5 2 2 2 1 4 2 2 1 2 1 3 2 4 2 5 1 4 4 3 4 5 1 5 2 2 3 1 3 4 3 4 1 5 3 1 5 5 3 1 3 5 5 3 5 3 3 2 4 4 5 5 3 4 2 2"/><path d="M740 208.5H784" stroke="#a00000" stroke-width="1" opacity="0.45" stroke-dasharray="5 2 5 2 2 3 4 3 1 4 2 5 5 5 4 3 5 5 3 1 2 2 5 4 5 2 2 2 1 4 2 2 1 2 1 3 2 4 2 5 1 4 4 3 4 5 1 5 2 2 3 1 3 4 3 4 1 5 3 1 5 5 3 1 3 5 5 3 5 3 3 2 4 4 5 5 3 4 2 2"/><path d="M112 209.5H260" stroke="#0010ff" stroke-width="1" opacity="1.00"/><path d="M263 209.5H371.7" stroke="#0010ff" stroke-width="1" opacity="1.00"/><path d="M374 209.5H381" stroke="#0010ff" stroke-width="1" opacity="0.80"/><path d="M381 209.5H387" stroke="#0010ff" stroke-width="1" opacity="0.25"/><path d="M387 209.5H417" stroke="#0010ff" stroke-width="1" opacity="1.00"/><path d="M417 209.5H428" stroke="#0010ff" stroke-width="1" opacity="0.30"/><path d="M428 209.5H440" stroke="#0010ff" stroke-width="1" opacity="1.00"/><path d="M440 209.5H444" stroke="#0010ff" stroke-width="1" opacity="0.50"/><path d="M444 209.5H517" stroke="#0010ff" stroke-width="1" opacity="1.00"/><path d="M522 209.5H541.7" stroke="#0010ff" stroke-width="1" opacity="1.00"/><path d="M591 209.5H594" stroke="#0010ff" stroke-width="1" opacity="0.30"/><path d="M594 209.5H608.5" stroke="#0010ff" stroke-width="1" opacity="1.00"/><path d="M611 209.5H630" stroke="#0010ff" stroke-width="1" opacity="1.00"/><path d="M630 209.5H634" stroke="#0010ff" stroke-width="1" opacity="0.40"/><path d="M634 209.5H681" stroke="#0010ff" stroke-width="1" opacity="1.00"/><path d="M681 209.5H684" stroke="#0010ff" stroke-width="1" opacity="0.60"/><path d="M684 209.5H733" stroke="#0010ff" stroke-width="1" opacity="1.00"/><path d="M740 209.5H784" stroke="#0010ff" stroke-width="1" opacity="1.00"/><path d="M112 209.5H260" stroke="#0000a0" stroke-width="1" opacity="0.40" stroke-dasharray="5 4 5 4 2 2 5 1 3 1 4 1 3 5 5 5 2 3 5 4 4 4 2 4 3 4 4 4 2 5 5 3 3 4 3 4 1 3 3 4 3 2 4 1 1 5 4 2 3 1 2 4 1 4 5 5 3 2 4 1 2 4 3 2 3 3 4 5 4 5 5 1 1 2 3 3 5 3 5 3"/><path d="M263 209.5H371.7" stroke="#0000a0" stroke-width="1" opacity="0.40" stroke-dasharray="5 4 5 4 2 2 5 1 3 1 4 1 3 5 5 5 2 3 5 4 4 4 2 4 3 4 4 4 2 5 5 3 3 4 3 4 1 3 3 4 3 2 4 1 1 5 4 2 3 1 2 4 1 4 5 5 3 2 4 1 2 4 3 2 3 3 4 5 4 5 5 1 1 2 3 3 5 3 5 3"/><path d="M374 209.5H381" stroke="#0000a0" stroke-width="1" opacity="0.32" stroke-dasharray="5 4 5 4 2 2 5 1 3 1 4 1 3 5 5 5 2 3 5 4 4 4 2 4 3 4 4 4 2 5 5 3 3 4 3 4 1 3 3 4 3 2 4 1 1 5 4 2 3 1 2 4 1 4 5 5 3 2 4 1 2 4 3 2 3 3 4 5 4 5 5 1 1 2 3 3 5 3 5 3"/><path d="M381 209.5H387" stroke="#0000a0" stroke-width="1" opacity="0.10" stroke-dasharray="5 4 5 4 2 2 5 1 3 1 4 1 3 5 5 5 2 3 5 4 4 4 2 4 3 4 4 4 2 5 5 3 3 4 3 4 1 3 3 4 3 2 4 1 1 5 4 2 3 1 2 4 1 4 5 5 3 2 4 1 2 4 3 2 3 3 4 5 4 5 5 1 1 2 3 3 5 3 5 3"/><path d="M387 209.5H417" stroke="#0000a0" stroke-width="1" opacity="0.40" stroke-dasharray="5 4 5 4 2 2 5 1 3 1 4 1 3 5 5 5 2 3 5 4 4 4 2 4 3 4 4 4 2 5 5 3 3 4 3 4 1 3 3 4 3 2 4 1 1 5 4 2 3 1 2 4 1 4 5 5 3 2 4 1 2 4 3 2 3 3 4 5 4 5 5 1 1 2 3 3 5 3 5 3"/><path d="M417 209.5H428" stroke="#0000a0" stroke-width="1" opacity="0.12" stroke-dasharray="5 4 5 4 2 2 5 1 3 1 4 1 3 5 5 5 2 3 5 4 4 4 2 4 3 4 4 4 2 5 5 3 3 4 3 4 1 3 3 4 3 2 4 1 1 5 4 2 3 1 2 4 1 4 5 5 3 2 4 1 2 4 3 2 3 3 4 5 4 5 5 1 1 2 3 3 5 3 5 3"/><path d="M428 209.5H440" stroke="#0000a0" stroke-width="1" opacity="0.40" stroke-dasharray="5 4 5 4 2 2 5 1 3 1 4 1 3 5 5 5 2 3 5 4 4 4 2 4 3 4 4 4 2 5 5 3 3 4 3 4 1 3 3 4 3 2 4 1 1 5 4 2 3 1 2 4 1 4 5 5 3 2 4 1 2 4 3 2 3 3 4 5 4 5 5 1 1 2 3 3 5 3 5 3"/><path d="M440 209.5H444" stroke="#0000a0" stroke-width="1" opacity="0.20" stroke-dasharray="5 4 5 4 2 2 5 1 3 1 4 1 3 5 5 5 2 3 5 4 4 4 2 4 3 4 4 4 2 5 5 3 3 4 3 4 1 3 3 4 3 2 4 1 1 5 4 2 3 1 2 4 1 4 5 5 3 2 4 1 2 4 3 2 3 3 4 5 4 5 5 1 1 2 3 3 5 3 5 3"/><path d="M444 209.5H517" stroke="#0000a0" stroke-width="1" opacity="0.40" stroke-dasharray="5 4 5 4 2 2 5 1 3 1 4 1 3 5 5 5 2 3 5 4 4 4 2 4 3 4 4 4 2 5 5 3 3 4 3 4 1 3 3 4 3 2 4 1 1 5 4 2 3 1 2 4 1 4 5 5 3 2 4 1 2 4 3 2 3 3 4 5 4 5 5 1 1 2 3 3 5 3 5 3"/><path d="M522 209.5H541.7" stroke="#0000a0" stroke-width="1" opacity="0.40" stroke-dasharray="5 4 5 4 2 2 5 1 3 1 4 1 3 5 5 5 2 3 5 4 4 4 2 4 3 4 4 4 2 5 5 3 3 4 3 4 1 3 3 4 3 2 4 1 1 5 4 2 3 1 2 4 1 4 5 5 3 2 4 1 2 4 3 2 3 3 4 5 4 5 5 1 1 2 3 3 5 3 5 3"/><path d="M591 209.5H594" stroke="#0000a0" stroke-width="1" opacity="0.12" stroke-dasharray="5 4 5 4 2 2 5 1 3 1 4 1 3 5 5 5 2 3 5 4 4 4 2 4 3 4 4 4 2 5 5 3 3 4 3 4 1 3 3 4 3 2 4 1 1 5 4 2 3 1 2 4 1 4 5 5 3 2 4 1 2 4 3 2 3 3 4 5 4 5 5 1 1 2 3 3 5 3 5 3"/><path d="M594 209.5H608.5" stroke="#0000a0" stroke-width="1" opacity="0.40" stroke-dasharray="5 4 5 4 2 2 5 1 3 1 4 1 3 5 5 5 2 3 5 4 4 4 2 4 3 4 4 4 2 5 5 3 3 4 3 4 1 3 3 4 3 2 4 1 1 5 4 2 3 1 2 4 1 4 5 5 3 2 4 1 2 4 3 2 3 3 4 5 4 5 5 1 1 2 3 3 5 3 5 3"/><path d="M611 209.5H630" stroke="#0000a0" stroke-width="1" opacity="0.40" stroke-dasharray="5 4 5 4 2 2 5 1 3 1 4 1 3 5 5 5 2 3 5 4 4 4 2 4 3 4 4 4 2 5 5 3 3 4 3 4 1 3 3 4 3 2 4 1 1 5 4 2 3 1 2 4 1 4 5 5 3 2 4 1 2 4 3 2 3 3 4 5 4 5 5 1 1 2 3 3 5 3 5 3"/><path d="M630 209.5H634" stroke="#0000a0" stroke-width="1" opacity="0.16" stroke-dasharray="5 4 5 4 2 2 5 1 3 1 4 1 3 5 5 5 2 3 5 4 4 4 2 4 3 4 4 4 2 5 5 3 3 4 3 4 1 3 3 4 3 2 4 1 1 5 4 2 3 1 2 4 1 4 5 5 3 2 4 1 2 4 3 2 3 3 4 5 4 5 5 1 1 2 3 3 5 3 5 3"/><path d="M634 209.5H681" stroke="#0000a0" stroke-width="1" opacity="0.40" stroke-dasharray="5 4 5 4 2 2 5 1 3 1 4 1 3 5 5 5 2 3 5 4 4 4 2 4 3 4 4 4 2 5 5 3 3 4 3 4 1 3 3 4 3 2 4 1 1 5 4 2 3 1 2 4 1 4 5 5 3 2 4 1 2 4 3 2 3 3 4 5 4 5 5 1 1 2 3 3 5 3 5 3"/><path d="M681 209.5H684" stroke="#0000a0" stroke-width="1" opacity="0.24" stroke-dasharray="5 4 5 4 2 2 5 1 3 1 4 1 3 5 5 5 2 3 5 4 4 4 2 4 3 4 4 4 2 5 5 3 3 4 3 4 1 3 3 4 3 2 4 1 1 5 4 2 3 1 2 4 1 4 5 5 3 2 4 1 2 4 3 2 3 3 4 5 4 5 5 1 1 2 3 3 5 3 5 3"/><path d="M684 209.5H733" stroke="#0000a0" stroke-width="1" opacity="0.40" stroke-dasharray="5 4 5 4 2 2 5 1 3 1 4 1 3 5 5 5 2 3 5 4 4 4 2 4 3 4 4 4 2 5 5 3 3 4 3 4 1 3 3 4 3 2 4 1 1 5 4 2 3 1 2 4 1 4 5 5 3 2 4 1 2 4 3 2 3 3 4 5 4 5 5 1 1 2 3 3 5 3 5 3"/><path d="M740 209.5H784" stroke="#0000a0" stroke-width="1" opacity="0.40" stroke-dasharray="5 4 5 4 2 2 5 1 3 1 4 1 3 5 5 5 2 3 5 4 4 4 2 4 3 4 4 4 2 5 5 3 3 4 3 4 1 3 3 4 3 2 4 1 1 5 4 2 3 1 2 4 1 4 5 5 3 2 4 1 2 4 3 2 3 3 4 5 4 5 5 1 1 2 3 3 5 3 5 3"/><path d="M112 210.5H260" stroke="#0080ff" stroke-width="1" opacity="0.80" stroke-dasharray="1 4 3 3 2 1 1 3 4 1 2 1 4 4 4 4 4 4 2 3 4 1 3 1 4 3 4 3 2 2 4 4 3 2 4 1 1 2 3 1 1 1 3 4 1 4 4 1 1 1 2 1 2 3 4 2 2 2 4 2"/><path d="M263 210.5H371.7" stroke="#0080ff" stroke-width="1" opacity="0.80" stroke-dasharray="1 4 3 3 2 1 1 3 4 1 2 1 4 4 4 4 4 4 2 3 4 1 3 1 4 3 4 3 2 2 4 4 3 2 4 1 1 2 3 1 1 1 3 4 1 4 4 1 1 1 2 1 2 3 4 2 2 2 4 2"/><path d="M374 210.5H381" stroke="#0080ff" stroke-width="1" opacity="0.64" stroke-dasharray="1 4 3 3 2 1 1 3 4 1 2 1 4 4 4 4 4 4 2 3 4 1 3 1 4 3 4 3 2 2 4 4 3 2 4 1 1 2 3 1 1 1 3 4 1 4 4 1 1 1 2 1 2 3 4 2 2 2 4 2"/><path d="M381 210.5H387" stroke="#0080ff" stroke-width="1" opacity="0.20" stroke-dasharray="1 4 3 3 2 1 1 3 4 1 2 1 4 4 4 4 4 4 2 3 4 1 3 1 4 3 4 3 2 2 4 4 3 2 4 1 1 2 3 1 1 1 3 4 1 4 4 1 1 1 2 1 2 3 4 2 2 2 4 2"/><path d="M387 210.5H417" stroke="#0080ff" stroke-width="1" opacity="0.80" stroke-dasharray="1 4 3 3 2 1 1 3 4 1 2 1 4 4 4 4 4 4 2 3 4 1 3 1 4 3 4 3 2 2 4 4 3 2 4 1 1 2 3 1 1 1 3 4 1 4 4 1 1 1 2 1 2 3 4 2 2 2 4 2"/><path d="M417 210.5H428" stroke="#0080ff" stroke-width="1" opacity="0.24" stroke-dasharray="1 4 3 3 2 1 1 3 4 1 2 1 4 4 4 4 4 4 2 3 4 1 3 1 4 3 4 3 2 2 4 4 3 2 4 1 1 2 3 1 1 1 3 4 1 4 4 1 1 1 2 1 2 3 4 2 2 2 4 2"/><path d="M428 210.5H440" stroke="#0080ff" stroke-width="1" opacity="0.80" stroke-dasharray="1 4 3 3 2 1 1 3 4 1 2 1 4 4 4 4 4 4 2 3 4 1 3 1 4 3 4 3 2 2 4 4 3 2 4 1 1 2 3 1 1 1 3 4 1 4 4 1 1 1 2 1 2 3 4 2 2 2 4 2"/><path d="M440 210.5H444" stroke="#0080ff" stroke-width="1" opacity="0.40" stroke-dasharray="1 4 3 3 2 1 1 3 4 1 2 1 4 4 4 4 4 4 2 3 4 1 3 1 4 3 4 3 2 2 4 4 3 2 4 1 1 2 3 1 1 1 3 4 1 4 4 1 1 1 2 1 2 3 4 2 2 2 4 2"/><path d="M444 210.5H517" stroke="#0080ff" stroke-width="1" opacity="0.80" stroke-dasharray="1 4 3 3 2 1 1 3 4 1 2 1 4 4 4 4 4 4 2 3 4 1 3 1 4 3 4 3 2 2 4 4 3 2 4 1 1 2 3 1 1 1 3 4 1 4 4 1 1 1 2 1 2 3 4 2 2 2 4 2"/><path d="M522 210.5H541.7" stroke="#0080ff" stroke-width="1" opacity="0.80" stroke-dasharray="1 4 3 3 2 1 1 3 4 1 2 1 4 4 4 4 4 4 2 3 4 1 3 1 4 3 4 3 2 2 4 4 3 2 4 1 1 2 3 1 1 1 3 4 1 4 4 1 1 1 2 1 2 3 4 2 2 2 4 2"/><path d="M591 210.5H594" stroke="#0080ff" stroke-width="1" opacity="0.24" stroke-dasharray="1 4 3 3 2 1 1 3 4 1 2 1 4 4 4 4 4 4 2 3 4 1 3 1 4 3 4 3 2 2 4 4 3 2 4 1 1 2 3 1 1 1 3 4 1 4 4 1 1 1 2 1 2 3 4 2 2 2 4 2"/><path d="M594 210.5H608.5" stroke="#0080ff" stroke-width="1" opacity="0.80" stroke-dasharray="1 4 3 3 2 1 1 3 4 1 2 1 4 4 4 4 4 4 2 3 4 1 3 1 4 3 4 3 2 2 4 4 3 2 4 1 1 2 3 1 1 1 3 4 1 4 4 1 1 1 2 1 2 3 4 2 2 2 4 2"/><path d="M611 210.5H630" stroke="#0080ff" stroke-width="1" opacity="0.80" stroke-dasharray="1 4 3 3 2 1 1 3 4 1 2 1 4 4 4 4 4 4 2 3 4 1 3 1 4 3 4 3 2 2 4 4 3 2 4 1 1 2 3 1 1 1 3 4 1 4 4 1 1 1 2 1 2 3 4 2 2 2 4 2"/><path d="M630 210.5H634" stroke="#0080ff" stroke-width="1" opacity="0.32" stroke-dasharray="1 4 3 3 2 1 1 3 4 1 2 1 4 4 4 4 4 4 2 3 4 1 3 1 4 3 4 3 2 2 4 4 3 2 4 1 1 2 3 1 1 1 3 4 1 4 4 1 1 1 2 1 2 3 4 2 2 2 4 2"/><path d="M634 210.5H681" stroke="#0080ff" stroke-width="1" opacity="0.80" stroke-dasharray="1 4 3 3 2 1 1 3 4 1 2 1 4 4 4 4 4 4 2 3 4 1 3 1 4 3 4 3 2 2 4 4 3 2 4 1 1 2 3 1 1 1 3 4 1 4 4 1 1 1 2 1 2 3 4 2 2 2 4 2"/><path d="M681 210.5H684" stroke="#0080ff" stroke-width="1" opacity="0.48" stroke-dasharray="1 4 3 3 2 1 1 3 4 1 2 1 4 4 4 4 4 4 2 3 4 1 3 1 4 3 4 3 2 2 4 4 3 2 4 1 1 2 3 1 1 1 3 4 1 4 4 1 1 1 2 1 2 3 4 2 2 2 4 2"/><path d="M684 210.5H733" stroke="#0080ff" stroke-width="1" opacity="0.80" stroke-dasharray="1 4 3 3 2 1 1 3 4 1 2 1 4 4 4 4 4 4 2 3 4 1 3 1 4 3 4 3 2 2 4 4 3 2 4 1 1 2 3 1 1 1 3 4 1 4 4 1 1 1 2 1 2 3 4 2 2 2 4 2"/><path d="M740 210.5H784" stroke="#0080ff" stroke-width="1" opacity="0.80" stroke-dasharray="1 4 3 3 2 1 1 3 4 1 2 1 4 4 4 4 4 4 2 3 4 1 3 1 4 3 4 3 2 2 4 4 3 2 4 1 1 2 3 1 1 1 3 4 1 4 4 1 1 1 2 1 2 3 4 2 2 2 4 2"/><path d="M112 211.5H260" stroke="#ffc000" stroke-width="1" opacity="0.45" stroke-dasharray="1 2 1 1 4 1 3 1 1 4 2 1 4 1 3 4 4 3 3 1 2 3 2 3 2 3 1 2 3 3 2 2 3 4 4 2 2 1 3 1 1 1 1 4 2 4 4 4 3 1 1 4 1 2 4 2 1 1 4 2"/><path d="M263 211.5H371.7" stroke="#ffc000" stroke-width="1" opacity="0.45" stroke-dasharray="1 2 1 1 4 1 3 1 1 4 2 1 4 1 3 4 4 3 3 1 2 3 2 3 2 3 1 2 3 3 2 2 3 4 4 2 2 1 3 1 1 1 1 4 2 4 4 4 3 1 1 4 1 2 4 2 1 1 4 2"/><path d="M374 211.5H381" stroke="#ffc000" stroke-width="1" opacity="0.36" stroke-dasharray="1 2 1 1 4 1 3 1 1 4 2 1 4 1 3 4 4 3 3 1 2 3 2 3 2 3 1 2 3 3 2 2 3 4 4 2 2 1 3 1 1 1 1 4 2 4 4 4 3 1 1 4 1 2 4 2 1 1 4 2"/><path d="M381 211.5H387" stroke="#ffc000" stroke-width="1" opacity="0.11" stroke-dasharray="1 2 1 1 4 1 3 1 1 4 2 1 4 1 3 4 4 3 3 1 2 3 2 3 2 3 1 2 3 3 2 2 3 4 4 2 2 1 3 1 1 1 1 4 2 4 4 4 3 1 1 4 1 2 4 2 1 1 4 2"/><path d="M387 211.5H417" stroke="#ffc000" stroke-width="1" opacity="0.45" stroke-dasharray="1 2 1 1 4 1 3 1 1 4 2 1 4 1 3 4 4 3 3 1 2 3 2 3 2 3 1 2 3 3 2 2 3 4 4 2 2 1 3 1 1 1 1 4 2 4 4 4 3 1 1 4 1 2 4 2 1 1 4 2"/><path d="M417 211.5H428" stroke="#ffc000" stroke-width="1" opacity="0.14" stroke-dasharray="1 2 1 1 4 1 3 1 1 4 2 1 4 1 3 4 4 3 3 1 2 3 2 3 2 3 1 2 3 3 2 2 3 4 4 2 2 1 3 1 1 1 1 4 2 4 4 4 3 1 1 4 1 2 4 2 1 1 4 2"/><path d="M428 211.5H440" stroke="#ffc000" stroke-width="1" opacity="0.45" stroke-dasharray="1 2 1 1 4 1 3 1 1 4 2 1 4 1 3 4 4 3 3 1 2 3 2 3 2 3 1 2 3 3 2 2 3 4 4 2 2 1 3 1 1 1 1 4 2 4 4 4 3 1 1 4 1 2 4 2 1 1 4 2"/><path d="M440 211.5H444" stroke="#ffc000" stroke-width="1" opacity="0.23" stroke-dasharray="1 2 1 1 4 1 3 1 1 4 2 1 4 1 3 4 4 3 3 1 2 3 2 3 2 3 1 2 3 3 2 2 3 4 4 2 2 1 3 1 1 1 1 4 2 4 4 4 3 1 1 4 1 2 4 2 1 1 4 2"/><path d="M444 211.5H517" stroke="#ffc000" stroke-width="1" opacity="0.45" stroke-dasharray="1 2 1 1 4 1 3 1 1 4 2 1 4 1 3 4 4 3 3 1 2 3 2 3 2 3 1 2 3 3 2 2 3 4 4 2 2 1 3 1 1 1 1 4 2 4 4 4 3 1 1 4 1 2 4 2 1 1 4 2"/><path d="M522 211.5H541.7" stroke="#ffc000" stroke-width="1" opacity="0.45" stroke-dasharray="1 2 1 1 4 1 3 1 1 4 2 1 4 1 3 4 4 3 3 1 2 3 2 3 2 3 1 2 3 3 2 2 3 4 4 2 2 1 3 1 1 1 1 4 2 4 4 4 3 1 1 4 1 2 4 2 1 1 4 2"/><path d="M591 211.5H594" stroke="#ffc000" stroke-width="1" opacity="0.14" stroke-dasharray="1 2 1 1 4 1 3 1 1 4 2 1 4 1 3 4 4 3 3 1 2 3 2 3 2 3 1 2 3 3 2 2 3 4 4 2 2 1 3 1 1 1 1 4 2 4 4 4 3 1 1 4 1 2 4 2 1 1 4 2"/><path d="M594 211.5H608.5" stroke="#ffc000" stroke-width="1" opacity="0.45" stroke-dasharray="1 2 1 1 4 1 3 1 1 4 2 1 4 1 3 4 4 3 3 1 2 3 2 3 2 3 1 2 3 3 2 2 3 4 4 2 2 1 3 1 1 1 1 4 2 4 4 4 3 1 1 4 1 2 4 2 1 1 4 2"/><path d="M611 211.5H630" stroke="#ffc000" stroke-width="1" opacity="0.45" stroke-dasharray="1 2 1 1 4 1 3 1 1 4 2 1 4 1 3 4 4 3 3 1 2 3 2 3 2 3 1 2 3 3 2 2 3 4 4 2 2 1 3 1 1 1 1 4 2 4 4 4 3 1 1 4 1 2 4 2 1 1 4 2"/><path d="M630 211.5H634" stroke="#ffc000" stroke-width="1" opacity="0.18" stroke-dasharray="1 2 1 1 4 1 3 1 1 4 2 1 4 1 3 4 4 3 3 1 2 3 2 3 2 3 1 2 3 3 2 2 3 4 4 2 2 1 3 1 1 1 1 4 2 4 4 4 3 1 1 4 1 2 4 2 1 1 4 2"/><path d="M634 211.5H681" stroke="#ffc000" stroke-width="1" opacity="0.45" stroke-dasharray="1 2 1 1 4 1 3 1 1 4 2 1 4 1 3 4 4 3 3 1 2 3 2 3 2 3 1 2 3 3 2 2 3 4 4 2 2 1 3 1 1 1 1 4 2 4 4 4 3 1 1 4 1 2 4 2 1 1 4 2"/><path d="M681 211.5H684" stroke="#ffc000" stroke-width="1" opacity="0.27" stroke-dasharray="1 2 1 1 4 1 3 1 1 4 2 1 4 1 3 4 4 3 3 1 2 3 2 3 2 3 1 2 3 3 2 2 3 4 4 2 2 1 3 1 1 1 1 4 2 4 4 4 3 1 1 4 1 2 4 2 1 1 4 2"/><path d="M684 211.5H733" stroke="#ffc000" stroke-width="1" opacity="0.45" stroke-dasharray="1 2 1 1 4 1 3 1 1 4 2 1 4 1 3 4 4 3 3 1 2 3 2 3 2 3 1 2 3 3 2 2 3 4 4 2 2 1 3 1 1 1 1 4 2 4 4 4 3 1 1 4 1 2 4 2 1 1 4 2"/><path d="M740 211.5H784" stroke="#ffc000" stroke-width="1" opacity="0.45" stroke-dasharray="1 2 1 1 4 1 3 1 1 4 2 1 4 1 3 4 4 3 3 1 2 3 2 3 2 3 1 2 3 3 2 2 3 4 4 2 2 1 3 1 1 1 1 4 2 4 4 4 3 1 1 4 1 2 4 2 1 1 4 2"/><path d="M112 212.5H260" stroke="#ff8000" stroke-width="1" opacity="0.50" stroke-dasharray="2 4 3 2 3 3 3 4 4 2 3 3 4 3 1 2 2 4 1 1 1 1 2 2 2 1 4 4 3 1 4 4 3 4 3 4 4 1 2 2 2 1 3 4 4 2 3 1 3 2 3 2 1 4 1 3 3 3 1 1"/><path d="M263 212.5H371.7" stroke="#ff8000" stroke-width="1" opacity="0.50" stroke-dasharray="2 4 3 2 3 3 3 4 4 2 3 3 4 3 1 2 2 4 1 1 1 1 2 2 2 1 4 4 3 1 4 4 3 4 3 4 4 1 2 2 2 1 3 4 4 2 3 1 3 2 3 2 1 4 1 3 3 3 1 1"/><path d="M374 212.5H381" stroke="#ff8000" stroke-width="1" opacity="0.40" stroke-dasharray="2 4 3 2 3 3 3 4 4 2 3 3 4 3 1 2 2 4 1 1 1 1 2 2 2 1 4 4 3 1 4 4 3 4 3 4 4 1 2 2 2 1 3 4 4 2 3 1 3 2 3 2 1 4 1 3 3 3 1 1"/><path d="M381 212.5H387" stroke="#ff8000" stroke-width="1" opacity="0.12" stroke-dasharray="2 4 3 2 3 3 3 4 4 2 3 3 4 3 1 2 2 4 1 1 1 1 2 2 2 1 4 4 3 1 4 4 3 4 3 4 4 1 2 2 2 1 3 4 4 2 3 1 3 2 3 2 1 4 1 3 3 3 1 1"/><path d="M387 212.5H417" stroke="#ff8000" stroke-width="1" opacity="0.50" stroke-dasharray="2 4 3 2 3 3 3 4 4 2 3 3 4 3 1 2 2 4 1 1 1 1 2 2 2 1 4 4 3 1 4 4 3 4 3 4 4 1 2 2 2 1 3 4 4 2 3 1 3 2 3 2 1 4 1 3 3 3 1 1"/><path d="M417 212.5H428" stroke="#ff8000" stroke-width="1" opacity="0.15" stroke-dasharray="2 4 3 2 3 3 3 4 4 2 3 3 4 3 1 2 2 4 1 1 1 1 2 2 2 1 4 4 3 1 4 4 3 4 3 4 4 1 2 2 2 1 3 4 4 2 3 1 3 2 3 2 1 4 1 3 3 3 1 1"/><path d="M428 212.5H440" stroke="#ff8000" stroke-width="1" opacity="0.50" stroke-dasharray="2 4 3 2 3 3 3 4 4 2 3 3 4 3 1 2 2 4 1 1 1 1 2 2 2 1 4 4 3 1 4 4 3 4 3 4 4 1 2 2 2 1 3 4 4 2 3 1 3 2 3 2 1 4 1 3 3 3 1 1"/><path d="M440 212.5H444" stroke="#ff8000" stroke-width="1" opacity="0.25" stroke-dasharray="2 4 3 2 3 3 3 4 4 2 3 3 4 3 1 2 2 4 1 1 1 1 2 2 2 1 4 4 3 1 4 4 3 4 3 4 4 1 2 2 2 1 3 4 4 2 3 1 3 2 3 2 1 4 1 3 3 3 1 1"/><path d="M444 212.5H517" stroke="#ff8000" stroke-width="1" opacity="0.50" stroke-dasharray="2 4 3 2 3 3 3 4 4 2 3 3 4 3 1 2 2 4 1 1 1 1 2 2 2 1 4 4 3 1 4 4 3 4 3 4 4 1 2 2 2 1 3 4 4 2 3 1 3 2 3 2 1 4 1 3 3 3 1 1"/><path d="M522 212.5H541.7" stroke="#ff8000" stroke-width="1" opacity="0.50" stroke-dasharray="2 4 3 2 3 3 3 4 4 2 3 3 4 3 1 2 2 4 1 1 1 1 2 2 2 1 4 4 3 1 4 4 3 4 3 4 4 1 2 2 2 1 3 4 4 2 3 1 3 2 3 2 1 4 1 3 3 3 1 1"/><path d="M591 212.5H594" stroke="#ff8000" stroke-width="1" opacity="0.15" stroke-dasharray="2 4 3 2 3 3 3 4 4 2 3 3 4 3 1 2 2 4 1 1 1 1 2 2 2 1 4 4 3 1 4 4 3 4 3 4 4 1 2 2 2 1 3 4 4 2 3 1 3 2 3 2 1 4 1 3 3 3 1 1"/><path d="M594 212.5H608.5" stroke="#ff8000" stroke-width="1" opacity="0.50" stroke-dasharray="2 4 3 2 3 3 3 4 4 2 3 3 4 3 1 2 2 4 1 1 1 1 2 2 2 1 4 4 3 1 4 4 3 4 3 4 4 1 2 2 2 1 3 4 4 2 3 1 3 2 3 2 1 4 1 3 3 3 1 1"/><path d="M611 212.5H630" stroke="#ff8000" stroke-width="1" opacity="0.50" stroke-dasharray="2 4 3 2 3 3 3 4 4 2 3 3 4 3 1 2 2 4 1 1 1 1 2 2 2 1 4 4 3 1 4 4 3 4 3 4 4 1 2 2 2 1 3 4 4 2 3 1 3 2 3 2 1 4 1 3 3 3 1 1"/><path d="M630 212.5H634" stroke="#ff8000" stroke-width="1" opacity="0.20" stroke-dasharray="2 4 3 2 3 3 3 4 4 2 3 3 4 3 1 2 2 4 1 1 1 1 2 2 2 1 4 4 3 1 4 4 3 4 3 4 4 1 2 2 2 1 3 4 4 2 3 1 3 2 3 2 1 4 1 3 3 3 1 1"/><path d="M634 212.5H681" stroke="#ff8000" stroke-width="1" opacity="0.50" stroke-dasharray="2 4 3 2 3 3 3 4 4 2 3 3 4 3 1 2 2 4 1 1 1 1 2 2 2 1 4 4 3 1 4 4 3 4 3 4 4 1 2 2 2 1 3 4 4 2 3 1 3 2 3 2 1 4 1 3 3 3 1 1"/><path d="M681 212.5H684" stroke="#ff8000" stroke-width="1" opacity="0.30" stroke-dasharray="2 4 3 2 3 3 3 4 4 2 3 3 4 3 1 2 2 4 1 1 1 1 2 2 2 1 4 4 3 1 4 4 3 4 3 4 4 1 2 2 2 1 3 4 4 2 3 1 3 2 3 2 1 4 1 3 3 3 1 1"/><path d="M684 212.5H733" stroke="#ff8000" stroke-width="1" opacity="0.50" stroke-dasharray="2 4 3 2 3 3 3 4 4 2 3 3 4 3 1 2 2 4 1 1 1 1 2 2 2 1 4 4 3 1 4 4 3 4 3 4 4 1 2 2 2 1 3 4 4 2 3 1 3 2 3 2 1 4 1 3 3 3 1 1"/><path d="M740 212.5H784" stroke="#ff8000" stroke-width="1" opacity="0.50" stroke-dasharray="2 4 3 2 3 3 3 4 4 2 3 3 4 3 1 2 2 4 1 1 1 1 2 2 2 1 4 4 3 1 4 4 3 4 3 4 4 1 2 2 2 1 3 4 4 2 3 1 3 2 3 2 1 4 1 3 3 3 1 1"/><path d="M112 213.5H260" stroke="#20b0ff" stroke-width="1" opacity="0.35" stroke-dasharray="4 4 2 1 3 3 4 2 2 1 2 1 2 1 4 3 3 2 4 3 3 1 4 2 2 2 2 1 4 3 1 4 1 4 4 2 1 1 3 1 1 2 4 1 4 1 2 1 4 4 1 1 3 4 4 3 1 1 2 2"/><path d="M263 213.5H371.7" stroke="#20b0ff" stroke-width="1" opacity="0.35" stroke-dasharray="4 4 2 1 3 3 4 2 2 1 2 1 2 1 4 3 3 2 4 3 3 1 4 2 2 2 2 1 4 3 1 4 1 4 4 2 1 1 3 1 1 2 4 1 4 1 2 1 4 4 1 1 3 4 4 3 1 1 2 2"/><path d="M374 213.5H381" stroke="#20b0ff" stroke-width="1" opacity="0.28" stroke-dasharray="4 4 2 1 3 3 4 2 2 1 2 1 2 1 4 3 3 2 4 3 3 1 4 2 2 2 2 1 4 3 1 4 1 4 4 2 1 1 3 1 1 2 4 1 4 1 2 1 4 4 1 1 3 4 4 3 1 1 2 2"/><path d="M381 213.5H387" stroke="#20b0ff" stroke-width="1" opacity="0.09" stroke-dasharray="4 4 2 1 3 3 4 2 2 1 2 1 2 1 4 3 3 2 4 3 3 1 4 2 2 2 2 1 4 3 1 4 1 4 4 2 1 1 3 1 1 2 4 1 4 1 2 1 4 4 1 1 3 4 4 3 1 1 2 2"/><path d="M387 213.5H417" stroke="#20b0ff" stroke-width="1" opacity="0.35" stroke-dasharray="4 4 2 1 3 3 4 2 2 1 2 1 2 1 4 3 3 2 4 3 3 1 4 2 2 2 2 1 4 3 1 4 1 4 4 2 1 1 3 1 1 2 4 1 4 1 2 1 4 4 1 1 3 4 4 3 1 1 2 2"/><path d="M417 213.5H428" stroke="#20b0ff" stroke-width="1" opacity="0.10" stroke-dasharray="4 4 2 1 3 3 4 2 2 1 2 1 2 1 4 3 3 2 4 3 3 1 4 2 2 2 2 1 4 3 1 4 1 4 4 2 1 1 3 1 1 2 4 1 4 1 2 1 4 4 1 1 3 4 4 3 1 1 2 2"/><path d="M428 213.5H440" stroke="#20b0ff" stroke-width="1" opacity="0.35" stroke-dasharray="4 4 2 1 3 3 4 2 2 1 2 1 2 1 4 3 3 2 4 3 3 1 4 2 2 2 2 1 4 3 1 4 1 4 4 2 1 1 3 1 1 2 4 1 4 1 2 1 4 4 1 1 3 4 4 3 1 1 2 2"/><path d="M440 213.5H444" stroke="#20b0ff" stroke-width="1" opacity="0.17" stroke-dasharray="4 4 2 1 3 3 4 2 2 1 2 1 2 1 4 3 3 2 4 3 3 1 4 2 2 2 2 1 4 3 1 4 1 4 4 2 1 1 3 1 1 2 4 1 4 1 2 1 4 4 1 1 3 4 4 3 1 1 2 2"/><path d="M444 213.5H517" stroke="#20b0ff" stroke-width="1" opacity="0.35" stroke-dasharray="4 4 2 1 3 3 4 2 2 1 2 1 2 1 4 3 3 2 4 3 3 1 4 2 2 2 2 1 4 3 1 4 1 4 4 2 1 1 3 1 1 2 4 1 4 1 2 1 4 4 1 1 3 4 4 3 1 1 2 2"/><path d="M522 213.5H541.7" stroke="#20b0ff" stroke-width="1" opacity="0.35" stroke-dasharray="4 4 2 1 3 3 4 2 2 1 2 1 2 1 4 3 3 2 4 3 3 1 4 2 2 2 2 1 4 3 1 4 1 4 4 2 1 1 3 1 1 2 4 1 4 1 2 1 4 4 1 1 3 4 4 3 1 1 2 2"/><path d="M591 213.5H594" stroke="#20b0ff" stroke-width="1" opacity="0.10" stroke-dasharray="4 4 2 1 3 3 4 2 2 1 2 1 2 1 4 3 3 2 4 3 3 1 4 2 2 2 2 1 4 3 1 4 1 4 4 2 1 1 3 1 1 2 4 1 4 1 2 1 4 4 1 1 3 4 4 3 1 1 2 2"/><path d="M594 213.5H608.5" stroke="#20b0ff" stroke-width="1" opacity="0.35" stroke-dasharray="4 4 2 1 3 3 4 2 2 1 2 1 2 1 4 3 3 2 4 3 3 1 4 2 2 2 2 1 4 3 1 4 1 4 4 2 1 1 3 1 1 2 4 1 4 1 2 1 4 4 1 1 3 4 4 3 1 1 2 2"/><path d="M611 213.5H630" stroke="#20b0ff" stroke-width="1" opacity="0.35" stroke-dasharray="4 4 2 1 3 3 4 2 2 1 2 1 2 1 4 3 3 2 4 3 3 1 4 2 2 2 2 1 4 3 1 4 1 4 4 2 1 1 3 1 1 2 4 1 4 1 2 1 4 4 1 1 3 4 4 3 1 1 2 2"/><path d="M630 213.5H634" stroke="#20b0ff" stroke-width="1" opacity="0.14" stroke-dasharray="4 4 2 1 3 3 4 2 2 1 2 1 2 1 4 3 3 2 4 3 3 1 4 2 2 2 2 1 4 3 1 4 1 4 4 2 1 1 3 1 1 2 4 1 4 1 2 1 4 4 1 1 3 4 4 3 1 1 2 2"/><path d="M634 213.5H681" stroke="#20b0ff" stroke-width="1" opacity="0.35" stroke-dasharray="4 4 2 1 3 3 4 2 2 1 2 1 2 1 4 3 3 2 4 3 3 1 4 2 2 2 2 1 4 3 1 4 1 4 4 2 1 1 3 1 1 2 4 1 4 1 2 1 4 4 1 1 3 4 4 3 1 1 2 2"/><path d="M681 213.5H684" stroke="#20b0ff" stroke-width="1" opacity="0.21" stroke-dasharray="4 4 2 1 3 3 4 2 2 1 2 1 2 1 4 3 3 2 4 3 3 1 4 2 2 2 2 1 4 3 1 4 1 4 4 2 1 1 3 1 1 2 4 1 4 1 2 1 4 4 1 1 3 4 4 3 1 1 2 2"/><path d="M684 213.5H733" stroke="#20b0ff" stroke-width="1" opacity="0.35" stroke-dasharray="4 4 2 1 3 3 4 2 2 1 2 1 2 1 4 3 3 2 4 3 3 1 4 2 2 2 2 1 4 3 1 4 1 4 4 2 1 1 3 1 1 2 4 1 4 1 2 1 4 4 1 1 3 4 4 3 1 1 2 2"/><path d="M740 213.5H784" stroke="#20b0ff" stroke-width="1" opacity="0.35" stroke-dasharray="4 4 2 1 3 3 4 2 2 1 2 1 2 1 4 3 3 2 4 3 3 1 4 2 2 2 2 1 4 3 1 4 1 4 4 2 1 1 3 1 1 2 4 1 4 1 2 1 4 4 1 1 3 4 4 3 1 1 2 2"/><path d="M112 214.5H260" stroke="#0080ff" stroke-width="1" opacity="0.35" stroke-dasharray="4 2 2 1 3 1 1 2 1 2 1 4 3 4 4 4 2 1 3 4 2 1 2 3 4 1 3 4 3 2 2 1 4 2 1 4 2 3 1 4 2 1 2 3 3 1 1 4 3 4 1 3 2 1 4 2 1 1 4 3"/><path d="M263 214.5H371.7" stroke="#0080ff" stroke-width="1" opacity="0.35" stroke-dasharray="4 2 2 1 3 1 1 2 1 2 1 4 3 4 4 4 2 1 3 4 2 1 2 3 4 1 3 4 3 2 2 1 4 2 1 4 2 3 1 4 2 1 2 3 3 1 1 4 3 4 1 3 2 1 4 2 1 1 4 3"/><path d="M374 214.5H381" stroke="#0080ff" stroke-width="1" opacity="0.28" stroke-dasharray="4 2 2 1 3 1 1 2 1 2 1 4 3 4 4 4 2 1 3 4 2 1 2 3 4 1 3 4 3 2 2 1 4 2 1 4 2 3 1 4 2 1 2 3 3 1 1 4 3 4 1 3 2 1 4 2 1 1 4 3"/><path d="M381 214.5H387" stroke="#0080ff" stroke-width="1" opacity="0.09" stroke-dasharray="4 2 2 1 3 1 1 2 1 2 1 4 3 4 4 4 2 1 3 4 2 1 2 3 4 1 3 4 3 2 2 1 4 2 1 4 2 3 1 4 2 1 2 3 3 1 1 4 3 4 1 3 2 1 4 2 1 1 4 3"/><path d="M387 214.5H417" stroke="#0080ff" stroke-width="1" opacity="0.35" stroke-dasharray="4 2 2 1 3 1 1 2 1 2 1 4 3 4 4 4 2 1 3 4 2 1 2 3 4 1 3 4 3 2 2 1 4 2 1 4 2 3 1 4 2 1 2 3 3 1 1 4 3 4 1 3 2 1 4 2 1 1 4 3"/><path d="M417 214.5H428" stroke="#0080ff" stroke-width="1" opacity="0.10" stroke-dasharray="4 2 2 1 3 1 1 2 1 2 1 4 3 4 4 4 2 1 3 4 2 1 2 3 4 1 3 4 3 2 2 1 4 2 1 4 2 3 1 4 2 1 2 3 3 1 1 4 3 4 1 3 2 1 4 2 1 1 4 3"/><path d="M428 214.5H440" stroke="#0080ff" stroke-width="1" opacity="0.35" stroke-dasharray="4 2 2 1 3 1 1 2 1 2 1 4 3 4 4 4 2 1 3 4 2 1 2 3 4 1 3 4 3 2 2 1 4 2 1 4 2 3 1 4 2 1 2 3 3 1 1 4 3 4 1 3 2 1 4 2 1 1 4 3"/><path d="M440 214.5H444" stroke="#0080ff" stroke-width="1" opacity="0.17" stroke-dasharray="4 2 2 1 3 1 1 2 1 2 1 4 3 4 4 4 2 1 3 4 2 1 2 3 4 1 3 4 3 2 2 1 4 2 1 4 2 3 1 4 2 1 2 3 3 1 1 4 3 4 1 3 2 1 4 2 1 1 4 3"/><path d="M444 214.5H517" stroke="#0080ff" stroke-width="1" opacity="0.35" stroke-dasharray="4 2 2 1 3 1 1 2 1 2 1 4 3 4 4 4 2 1 3 4 2 1 2 3 4 1 3 4 3 2 2 1 4 2 1 4 2 3 1 4 2 1 2 3 3 1 1 4 3 4 1 3 2 1 4 2 1 1 4 3"/><path d="M522 214.5H541.7" stroke="#0080ff" stroke-width="1" opacity="0.35" stroke-dasharray="4 2 2 1 3 1 1 2 1 2 1 4 3 4 4 4 2 1 3 4 2 1 2 3 4 1 3 4 3 2 2 1 4 2 1 4 2 3 1 4 2 1 2 3 3 1 1 4 3 4 1 3 2 1 4 2 1 1 4 3"/><path d="M591 214.5H594" stroke="#0080ff" stroke-width="1" opacity="0.10" stroke-dasharray="4 2 2 1 3 1 1 2 1 2 1 4 3 4 4 4 2 1 3 4 2 1 2 3 4 1 3 4 3 2 2 1 4 2 1 4 2 3 1 4 2 1 2 3 3 1 1 4 3 4 1 3 2 1 4 2 1 1 4 3"/><path d="M594 214.5H608.5" stroke="#0080ff" stroke-width="1" opacity="0.35" stroke-dasharray="4 2 2 1 3 1 1 2 1 2 1 4 3 4 4 4 2 1 3 4 2 1 2 3 4 1 3 4 3 2 2 1 4 2 1 4 2 3 1 4 2 1 2 3 3 1 1 4 3 4 1 3 2 1 4 2 1 1 4 3"/><path d="M611 214.5H630" stroke="#0080ff" stroke-width="1" opacity="0.35" stroke-dasharray="4 2 2 1 3 1 1 2 1 2 1 4 3 4 4 4 2 1 3 4 2 1 2 3 4 1 3 4 3 2 2 1 4 2 1 4 2 3 1 4 2 1 2 3 3 1 1 4 3 4 1 3 2 1 4 2 1 1 4 3"/><path d="M630 214.5H634" stroke="#0080ff" stroke-width="1" opacity="0.14" stroke-dasharray="4 2 2 1 3 1 1 2 1 2 1 4 3 4 4 4 2 1 3 4 2 1 2 3 4 1 3 4 3 2 2 1 4 2 1 4 2 3 1 4 2 1 2 3 3 1 1 4 3 4 1 3 2 1 4 2 1 1 4 3"/><path d="M634 214.5H681" stroke="#0080ff" stroke-width="1" opacity="0.35" stroke-dasharray="4 2 2 1 3 1 1 2 1 2 1 4 3 4 4 4 2 1 3 4 2 1 2 3 4 1 3 4 3 2 2 1 4 2 1 4 2 3 1 4 2 1 2 3 3 1 1 4 3 4 1 3 2 1 4 2 1 1 4 3"/><path d="M681 214.5H684" stroke="#0080ff" stroke-width="1" opacity="0.21" stroke-dasharray="4 2 2 1 3 1 1 2 1 2 1 4 3 4 4 4 2 1 3 4 2 1 2 3 4 1 3 4 3 2 2 1 4 2 1 4 2 3 1 4 2 1 2 3 3 1 1 4 3 4 1 3 2 1 4 2 1 1 4 3"/><path d="M684 214.5H733" stroke="#0080ff" stroke-width="1" opacity="0.35" stroke-dasharray="4 2 2 1 3 1 1 2 1 2 1 4 3 4 4 4 2 1 3 4 2 1 2 3 4 1 3 4 3 2 2 1 4 2 1 4 2 3 1 4 2 1 2 3 3 1 1 4 3 4 1 3 2 1 4 2 1 1 4 3"/><path d="M740 214.5H784" stroke="#0080ff" stroke-width="1" opacity="0.35" stroke-dasharray="4 2 2 1 3 1 1 2 1 2 1 4 3 4 4 4 2 1 3 4 2 1 2 3 4 1 3 4 3 2 2 1 4 2 1 4 2 3 1 4 2 1 2 3 3 1 1 4 3 4 1 3 2 1 4 2 1 1 4 3"/><path d="M112 296.5H784" stroke="#e8e000" stroke-width="1" opacity="0.6"/><rect x="150" y="296" width="1" height="1" fill="#ff8000"/><rect x="146" y="295" width="1" height="1" fill="#d00000"/><rect x="159" y="296" width="1" height="1" fill="#0000d0"/><rect x="152" y="295" width="1" height="1" fill="#0040ff"/><rect x="153" y="295" width="1" height="1" fill="#00a0ff"/><rect x="159" y="295" width="2" height="1" fill="#00a0ff"/><rect x="146" y="296" width="1" height="1" fill="#0000d0"/><rect x="163" y="296" width="1" height="1" fill="#00a0ff"/><rect x="170" y="296" width="1" height="1" fill="#0000d0"/><rect x="177" y="295" width="1" height="1" fill="#00a0ff"/><rect x="184" y="297" width="2" height="1" fill="#00a0ff"/><rect x="197" y="297" width="2" height="1" fill="#00a0ff"/><rect x="196" y="296" width="1" height="1" fill="#0040ff"/><rect x="195" y="296" width="2" height="1" fill="#00a0ff"/><rect x="249" y="297" width="1" height="1" fill="#d00000"/><rect x="259" y="297" width="2" height="1" fill="#0040ff"/><rect x="270" y="297" width="1" height="1" fill="#ff8000"/><rect x="276" y="295" width="2" height="1" fill="#00a0ff"/><rect x="271" y="296" width="2" height="1" fill="#00a0ff"/><rect x="325" y="297" width="1" height="1" fill="#0000d0"/><rect x="326" y="297" width="1" height="1" fill="#0000d0"/><rect x="325" y="296" width="2" height="1" fill="#00a0ff"/><rect x="348" y="297" width="1" height="1" fill="#d00000"/><rect x="391" y="296" width="1" height="1" fill="#0040ff"/><rect x="382" y="296" width="1" height="1" fill="#d00000"/><rect x="387" y="297" width="2" height="1" fill="#ff8000"/><rect x="374" y="297" width="2" height="1" fill="#ff8000"/><rect x="390" y="297" width="2" height="1" fill="#00a0ff"/><rect x="386" y="296" width="1" height="1" fill="#ff8000"/><rect x="375" y="296" width="1" height="1" fill="#0040ff"/><rect x="385" y="295" width="1" height="1" fill="#ff8000"/><rect x="400" y="295" width="2" height="1" fill="#0040ff"/><rect x="424" y="296" width="1" height="1" fill="#0040ff"/><rect x="423" y="297" width="2" height="1" fill="#ff8000"/><rect x="422" y="297" width="1" height="1" fill="#ff8000"/><rect x="418" y="296" width="1" height="1" fill="#ff8000"/><rect x="417" y="295" width="1" height="1" fill="#0000d0"/><rect x="425" y="295" width="1" height="1" fill="#d00000"/><rect x="416" y="296" width="2" height="1" fill="#00a0ff"/><rect x="418" y="296" width="2" height="1" fill="#d00000"/><rect x="442" y="295" width="2" height="1" fill="#ff8000"/><rect x="442" y="296" width="1" height="1" fill="#0000d0"/><rect x="460" y="296" width="2" height="1" fill="#d00000"/><rect x="462" y="296" width="1" height="1" fill="#00a0ff"/><rect x="461" y="296" width="1" height="1" fill="#0040ff"/><rect x="481" y="296" width="2" height="1" fill="#0000d0"/><rect x="514" y="296" width="1" height="1" fill="#d00000"/><rect x="514" y="296" width="1" height="1" fill="#0040ff"/><rect x="517" y="297" width="1" height="1" fill="#0040ff"/><rect x="514" y="296" width="1" height="1" fill="#0000d0"/><rect x="517" y="297" width="1" height="1" fill="#d00000"/><rect x="539" y="296" width="2" height="1" fill="#ff8000"/><rect x="541" y="296" width="1" height="1" fill="#0000d0"/><rect x="537" y="297" width="2" height="1" fill="#0040ff"/><rect x="592" y="295" width="2" height="1" fill="#ff8000"/><rect x="594" y="295" width="2" height="1" fill="#0000d0"/><rect x="594" y="296" width="1" height="1" fill="#ff8000"/><rect x="629" y="296" width="2" height="1" fill="#0000d0"/><rect x="629" y="295" width="1" height="1" fill="#0040ff"/><rect x="640" y="295" width="2" height="1" fill="#0040ff"/><rect x="636" y="296" width="2" height="1" fill="#00a0ff"/><rect x="633" y="296" width="1" height="1" fill="#0040ff"/><rect x="620" y="295" width="1" height="1" fill="#00a0ff"/><rect x="629" y="296" width="1" height="1" fill="#0040ff"/><rect x="665" y="296" width="1" height="1" fill="#00a0ff"/><rect x="683" y="296" width="2" height="1" fill="#d00000"/><rect x="684" y="295" width="2" height="1" fill="#d00000"/><rect x="682" y="297" width="1" height="1" fill="#00a0ff"/><rect x="681" y="295" width="1" height="1" fill="#ff8000"/><rect x="701" y="296" width="1" height="1" fill="#0040ff"/><rect x="700" y="295" width="1" height="1" fill="#00a0ff"/><rect x="698" y="297" width="1" height="1" fill="#0000d0"/><rect x="697" y="296" width="1" height="1" fill="#0000d0"/><rect x="724" y="295" width="2" height="1" fill="#0000d0"/><rect x="723" y="296" width="2" height="1" fill="#d00000"/><rect x="724" y="297" width="1" height="1" fill="#00a0ff"/><rect x="724" y="296" width="1" height="1" fill="#00a0ff"/><rect x="775" y="296" width="1" height="1" fill="#ff8000"/><rect x="762" y="296" width="1" height="1" fill="#0000d0"/><rect x="763" y="296" width="1" height="1" fill="#d00000"/><rect x="777" y="296" width="1" height="1" fill="#d00000"/><rect x="112" y="54" width="672" height="396" fill="url(#fade)"/><rect x="260" y="54" width="3" height="396" fill="#7dff7a"/><rect x="541.7" y="54" width="49.299999999999955" height="396" fill="#7dff7a"/><rect x="608.5" y="54" width="2.5" height="396" fill="#7dff7a"/><rect x="733" y="54" width="7" height="396" fill="#7dff7a"/><g shape-rendering="crispEdges"><path d="M112.0 502.5 L150.0 502.5 L160.0 502.0 L170.0 502.5 L186.0 502.5 L190.0 502.5 L204.0 502.5 L212.0 503.1 L216.0 501.9 L222.0 503.1 L228.0 501.9 L235.0 502.5 L240.0 503.0 L244.0 501.9 L250.0 502.5 L258.0 503.1 L262.0 501.9 L266.0 502.5 L270.0 502.5 L272.0 503.1 L276.0 502.0 L280.0 503.0 L284.0 502.5 L288.0 503.1 L292.0 502.0 L296.0 502.5 L300.0 502.0 L306.0 502.3 L315.0 502.3 L328.0 502.3 L331.0 503.3 L333.0 501.3 L337.0 502.5 L340.0 503.5 L342.0 501.3 L344.0 503.3 L348.0 501.5 L351.0 504.5 L353.0 502.0 L356.0 501.5 L358.0 502.2 L360.0 502.5 L363.0 503.3 L365.0 501.5" stroke="#0000ff" stroke-width="3" fill="none" stroke-linejoin="round"/><path d="M381.0 502.5 L383.0 500.5 L386.5 505.3 L389.0 503.0 L392.5 500.5 L394.5 504.3 L397.5 501.5 L400.0 503.3 L402.0 503.3 L405.0 501.5 L408.5 504.3 L411.0 501.6 L413.0 502.5 L416.0 504.2 L418.0 502.0 L420.5 499.6 L423.5 504.2 L426.5 500.7 L429.0 503.0 L432.0 504.2 L435.0 500.7 L437.5 503.0 L440.5 505.4 L444.0 500.5 L447.0 500.8 L449.5 505.4 L451.5 501.6 L453.0 502.5 L455.5 498.5 L458.0 504.2 L461.0 500.5 L463.5 505.4 L466.0 499.4 L468.5 502.5 L471.5 504.5 L475.0 501.6 L478.0 503.5 L481.0 499.5 L485.5 506.4 L488.3 499.5 L491.0 500.7 L493.5 505.5 L495.5 500.7 L498.0 504.3 L501.5 497.7 L505.5 506.4 L507.5 496.5 L509.5 508.0 L511.0 512.2 L512.3 510.0 L513.2 503.0 L514.0 494.0 L515.0 488.5 L517.0 488.5 L517.6 492.0 L518.0 505.0 L519.0 530.0 L519.8 545.5 L520.6 545.5 L520.8 520.0 L521.3 500.0 L522.0 470.0 L522.5 452.5 L523.2 452.5 L523.6 470.0 L524.4 478.0 L524.6 494.0 L525.0 498.0 L528.2 504.0 L530.0 503.5 L531.5 498.5 L532.8 496.5 L534.5 499.5 L536.5 503.5 L538.5 505.0 L541.0 502.0 L543.0 499.5 L545.0 497.5 L546.8 502.0 L548.0 504.5 L549.5 500.0 L551.5 505.5 L553.5 502.0 L556.0 500.5 L558.0 502.0 L560.0 503.5 L563.0 502.0 L565.0 504.5 L567.0 501.5 L570.5 500.3 L573.5 504.4 L577.0 502.0 L580.0 500.3 L584.5 503.3 L587.5 502.5 L591.5 503.3 L594.0 501.4 L597.0 502.5 L600.0 504.4 L604.5 501.4 L608.0 503.3 L612.0 501.8 L616.0 503.5 L620.0 502.0 L624.0 503.5 L628.0 502.3 L632.0 503.2 L636.0 502.5 L640.0 503.3 L642.0 502.5 L645.0 501.8 L648.0 502.8 L660.0 502.8 L664.0 501.8 L667.0 502.8 L680.0 502.8 L690.0 502.8 L693.0 504.0 L696.0 501.8 L699.0 503.5 L702.0 501.8 L705.0 503.0 L709.0 501.8 L713.0 503.5 L716.0 501.8 L719.0 503.8 L722.0 501.8 L725.0 502.8 L740.0 502.5 L743.0 503.5 L745.0 501.8 L748.0 502.5 L770.0 502.5 L784.0 502.5" stroke="#0000ff" stroke-width="3" fill="none" stroke-linejoin="round"/><path d="M365.0 500.0 L366.0 500.0 L366.0 496.2 L367.0 496.2 L367.0 496.2 L368.0 496.2 L368.0 496.0 L369.0 496.0 L369.0 486.0 L370.0 486.0 L370.0 486.0 L371.0 486.0 L371.0 486.0 L372.0 486.0 L372.0 481.0 L373.0 481.0 L373.0 481.0 L374.0 481.0 L374.0 481.0 L375.0 481.0 L375.0 496.0 L376.0 496.0 L376.0 497.0 L377.0 497.0 L377.0 498.0 L379.0 498.0 L379.0 499.0 L381.0 499.0 L381.0 499.2 L382.0 499.2 L382.0 504.0 L381.0 504.0 L381.0 506.4 L379.0 506.4 L379.0 506.4 L377.0 506.4 L377.0 513.2 L376.0 513.2 L376.0 513.2 L375.0 513.2 L375.0 513.2 L374.0 513.2 L374.0 515.6 L373.0 515.6 L373.0 524.0 L372.0 524.0 L372.0 524.0 L371.0 524.0 L371.0 518.8 L370.0 518.8 L370.0 514.8 L369.0 514.8 L369.0 514.8 L368.0 514.8 L368.0 512.8 L367.0 512.8 L367.0 504.0 L366.0 504.0 L366.0 504.5 L365.0 504.5Z" fill="#0000ff"/><path d="M523 494 L525.5 494 L526.8 500 L528.3 500 L528.3 517.3 L523 517.5 Z" fill="#0000ff"/></g><rect x="111" y="53" width="675" height="1" fill="#000" opacity="0.3"/><rect x="111" y="53" width="1" height="503" fill="#000" opacity="0.3"/><rect x="785" y="53" width="1" height="503" fill="#000" opacity="0.2"/><rect x="783" y="55" width="1" height="500" fill="#000" opacity="0.2"/><rect x="113" y="449" width="670" height="1" fill="#000" opacity="0.2"/><rect x="112" y="451" width="673" height="1" fill="#000" opacity="0.2"/><rect x="112" y="556" width="673" height="1" fill="#000" opacity="0.2"/><rect x="112" y="54" width="673" height="1" fill="#000"/><rect x="112" y="54" width="1" height="502" fill="#000"/><rect x="784" y="54" width="1" height="502" fill="#000"/><rect x="112" y="450" width="673" height="1" fill="#000"/><rect x="112" y="555" width="673" height="1" fill="#000"/><rect x="113" y="384" width="5" height="1" fill="#000" opacity="0.85"/><rect x="779" y="384" width="5" height="1" fill="#000" opacity="0.85"/><rect x="118" y="384" width="1" height="1" fill="#000" opacity="0.3"/><rect x="778" y="384" width="1" height="1" fill="#000" opacity="0.3"/><rect x="113" y="318" width="5" height="1" fill="#000" opacity="0.85"/><rect x="779" y="318" width="5" height="1" fill="#000" opacity="0.85"/><rect x="118" y="318" width="1" height="1" fill="#000" opacity="0.3"/><rect x="778" y="318" width="1" height="1" fill="#000" opacity="0.3"/><rect x="113" y="252" width="5" height="1" fill="#000" opacity="0.85"/><rect x="779" y="252" width="5" height="1" fill="#000" opacity="0.85"/><rect x="118" y="252" width="1" height="1" fill="#000" opacity="0.3"/><rect x="778" y="252" width="1" height="1" fill="#000" opacity="0.3"/><rect x="113" y="186" width="5" height="1" fill="#000" opacity="0.85"/><rect x="779" y="186" width="5" height="1" fill="#000" opacity="0.85"/><rect x="118" y="186" width="1" height="1" fill="#000" opacity="0.3"/><rect x="778" y="186" width="1" height="1" fill="#000" opacity="0.3"/><rect x="113" y="120" width="5" height="1" fill="#000" opacity="0.85"/><rect x="779" y="120" width="5" height="1" fill="#000" opacity="0.85"/><rect x="118" y="120" width="1" height="1" fill="#000" opacity="0.3"/><rect x="778" y="120" width="1" height="1" fill="#000" opacity="0.3"/><rect x="169" y="55" width="1" height="5" fill="#000" opacity="0.85"/><rect x="169" y="60" width="1" height="1" fill="#000" opacity="0.3"/><rect x="221" y="55" width="1" height="5" fill="#000" opacity="0.85"/><rect x="221" y="60" width="1" height="1" fill="#000" opacity="0.3"/><rect x="278" y="55" width="1" height="5" fill="#000" opacity="0.85"/><rect x="278" y="60" width="1" height="1" fill="#000" opacity="0.3"/><rect x="333" y="55" width="1" height="5" fill="#000" opacity="0.85"/><rect x="333" y="60" width="1" height="1" fill="#000" opacity="0.3"/><rect x="390" y="55" width="1" height="5" fill="#000" opacity="0.85"/><rect x="390" y="60" width="1" height="1" fill="#000" opacity="0.3"/><rect x="445" y="55" width="1" height="5" fill="#000" opacity="0.85"/><rect x="445" y="60" width="1" height="1" fill="#000" opacity="0.3"/><rect x="502" y="55" width="1" height="5" fill="#000" opacity="0.85"/><rect x="502" y="60" width="1" height="1" fill="#000" opacity="0.3"/><rect x="559" y="55" width="1" height="5" fill="#000" opacity="0.85"/><rect x="559" y="60" width="1" height="1" fill="#000" opacity="0.3"/><rect x="615" y="55" width="1" height="5" fill="#000" opacity="0.85"/><rect x="615" y="60" width="1" height="1" fill="#000" opacity="0.3"/><rect x="672" y="55" width="1" height="5" fill="#000" opacity="0.85"/><rect x="672" y="60" width="1" height="1" fill="#000" opacity="0.3"/><rect x="727" y="55" width="1" height="5" fill="#000" opacity="0.85"/><rect x="727" y="60" width="1" height="1" fill="#000" opacity="0.3"/><rect x="113" y="503" width="5" height="1" fill="#000" opacity="0.85"/><rect x="779" y="503" width="5" height="1" fill="#000" opacity="0.85"/><rect x="224" y="451" width="1" height="5" fill="#000" opacity="0.75"/><rect x="224" y="456" width="1" height="1" fill="#000" opacity="0.3"/><rect x="224" y="550" width="1" height="5" fill="#000" opacity="0.75"/><rect x="224" y="549" width="1" height="1" fill="#000" opacity="0.3"/><rect x="336" y="451" width="1" height="5" fill="#000" opacity="0.75"/><rect x="336" y="456" width="1" height="1" fill="#000" opacity="0.3"/><rect x="336" y="550" width="1" height="5" fill="#000" opacity="0.75"/><rect x="336" y="549" width="1" height="1" fill="#000" opacity="0.3"/><rect x="448" y="451" width="1" height="5" fill="#000" opacity="0.75"/><rect x="448" y="456" width="1" height="1" fill="#000" opacity="0.3"/><rect x="448" y="550" width="1" height="5" fill="#000" opacity="0.75"/><rect x="448" y="549" width="1" height="1" fill="#000" opacity="0.3"/><rect x="560" y="451" width="1" height="5" fill="#000" opacity="0.75"/><rect x="560" y="456" width="1" height="1" fill="#000" opacity="0.3"/><rect x="560" y="550" width="1" height="5" fill="#000" opacity="0.75"/><rect x="560" y="549" width="1" height="1" fill="#000" opacity="0.3"/><rect x="672" y="451" width="1" height="5" fill="#000" opacity="0.75"/><rect x="672" y="456" width="1" height="1" fill="#000" opacity="0.3"/><rect x="672" y="550" width="1" height="5" fill="#000" opacity="0.75"/><rect x="672" y="549" width="1" height="1" fill="#000" opacity="0.3"/><g font-family="DejaVu Sans, Liberation Sans, sans-serif" font-weight="bold" font-size="16.67" fill="#000" filter="url(#gs)"><text transform="translate(106.5 456.0) scale(0.97 1)" text-anchor="end">−300</text><text transform="translate(111.2 572) scale(0.98 1)" text-anchor="middle">−300</text><text transform="translate(106.5 390.0) scale(0.97 1)" text-anchor="end">−200</text><text transform="translate(223.2 572) scale(0.98 1)" text-anchor="middle">−200</text><text transform="translate(106.5 324.0) scale(0.97 1)" text-anchor="end">−100</text><text transform="translate(335.2 572) scale(0.98 1)" text-anchor="middle">−100</text><text transform="translate(106.5 258.0) scale(0.97 1)" text-anchor="end">0</text><text transform="translate(448.0 572) scale(0.96 1)" text-anchor="middle">0</text><text transform="translate(106.5 192.0) scale(0.97 1)" text-anchor="end">100</text><text transform="translate(560.0 572) scale(0.96 1)" text-anchor="middle">100</text><text transform="translate(106.5 126.0) scale(0.97 1)" text-anchor="end">200</text><text transform="translate(672.0 572) scale(0.96 1)" text-anchor="middle">200</text><text transform="translate(106.5 60.0) scale(0.97 1)" text-anchor="end">300</text><text transform="translate(784.0 572) scale(0.96 1)" text-anchor="middle">300</text><text transform="translate(125.8 44.6) scale(0.966 1)">Jan</text><text x="182.6" y="47.6">Feb</text><text transform="translate(235.4 47.6) scale(0.994 1)">Mar</text><text transform="translate(288 44.6) scale(0.952 1)">Apr</text><text transform="translate(340.6 44.6) scale(0.984 1)">May</text><text transform="translate(403.2 44.6) scale(0.945 1)">Jun</text><text transform="translate(462.4 44.6) scale(0.92 1)">Jul</text><text transform="translate(512.4 44.6) scale(0.95 1)">Aug</text><text transform="translate(568.6 44.6) scale(0.971 1)">Sep</text><text transform="translate(628.5 47.6) scale(0.981 1)">Oct</text><text transform="translate(680 47.6) scale(0.96 1)">Nov</text><text transform="translate(738.6 47.6) scale(0.994 1)">Dec</text><text transform="translate(446.6 26) scale(0.972 1)" text-anchor="middle">2014</text><text x="448" y="591" text-anchor="middle">cross-correlation timelag (s)</text><text transform="translate(50,251) rotate(-90)" text-anchor="middle">cross-correlation timelag (s)</text><text x="99" y="498" text-anchor="end">stack of</text><text x="100" y="515" text-anchor="end">365.0 days</text></g></svg>
</body></html>
